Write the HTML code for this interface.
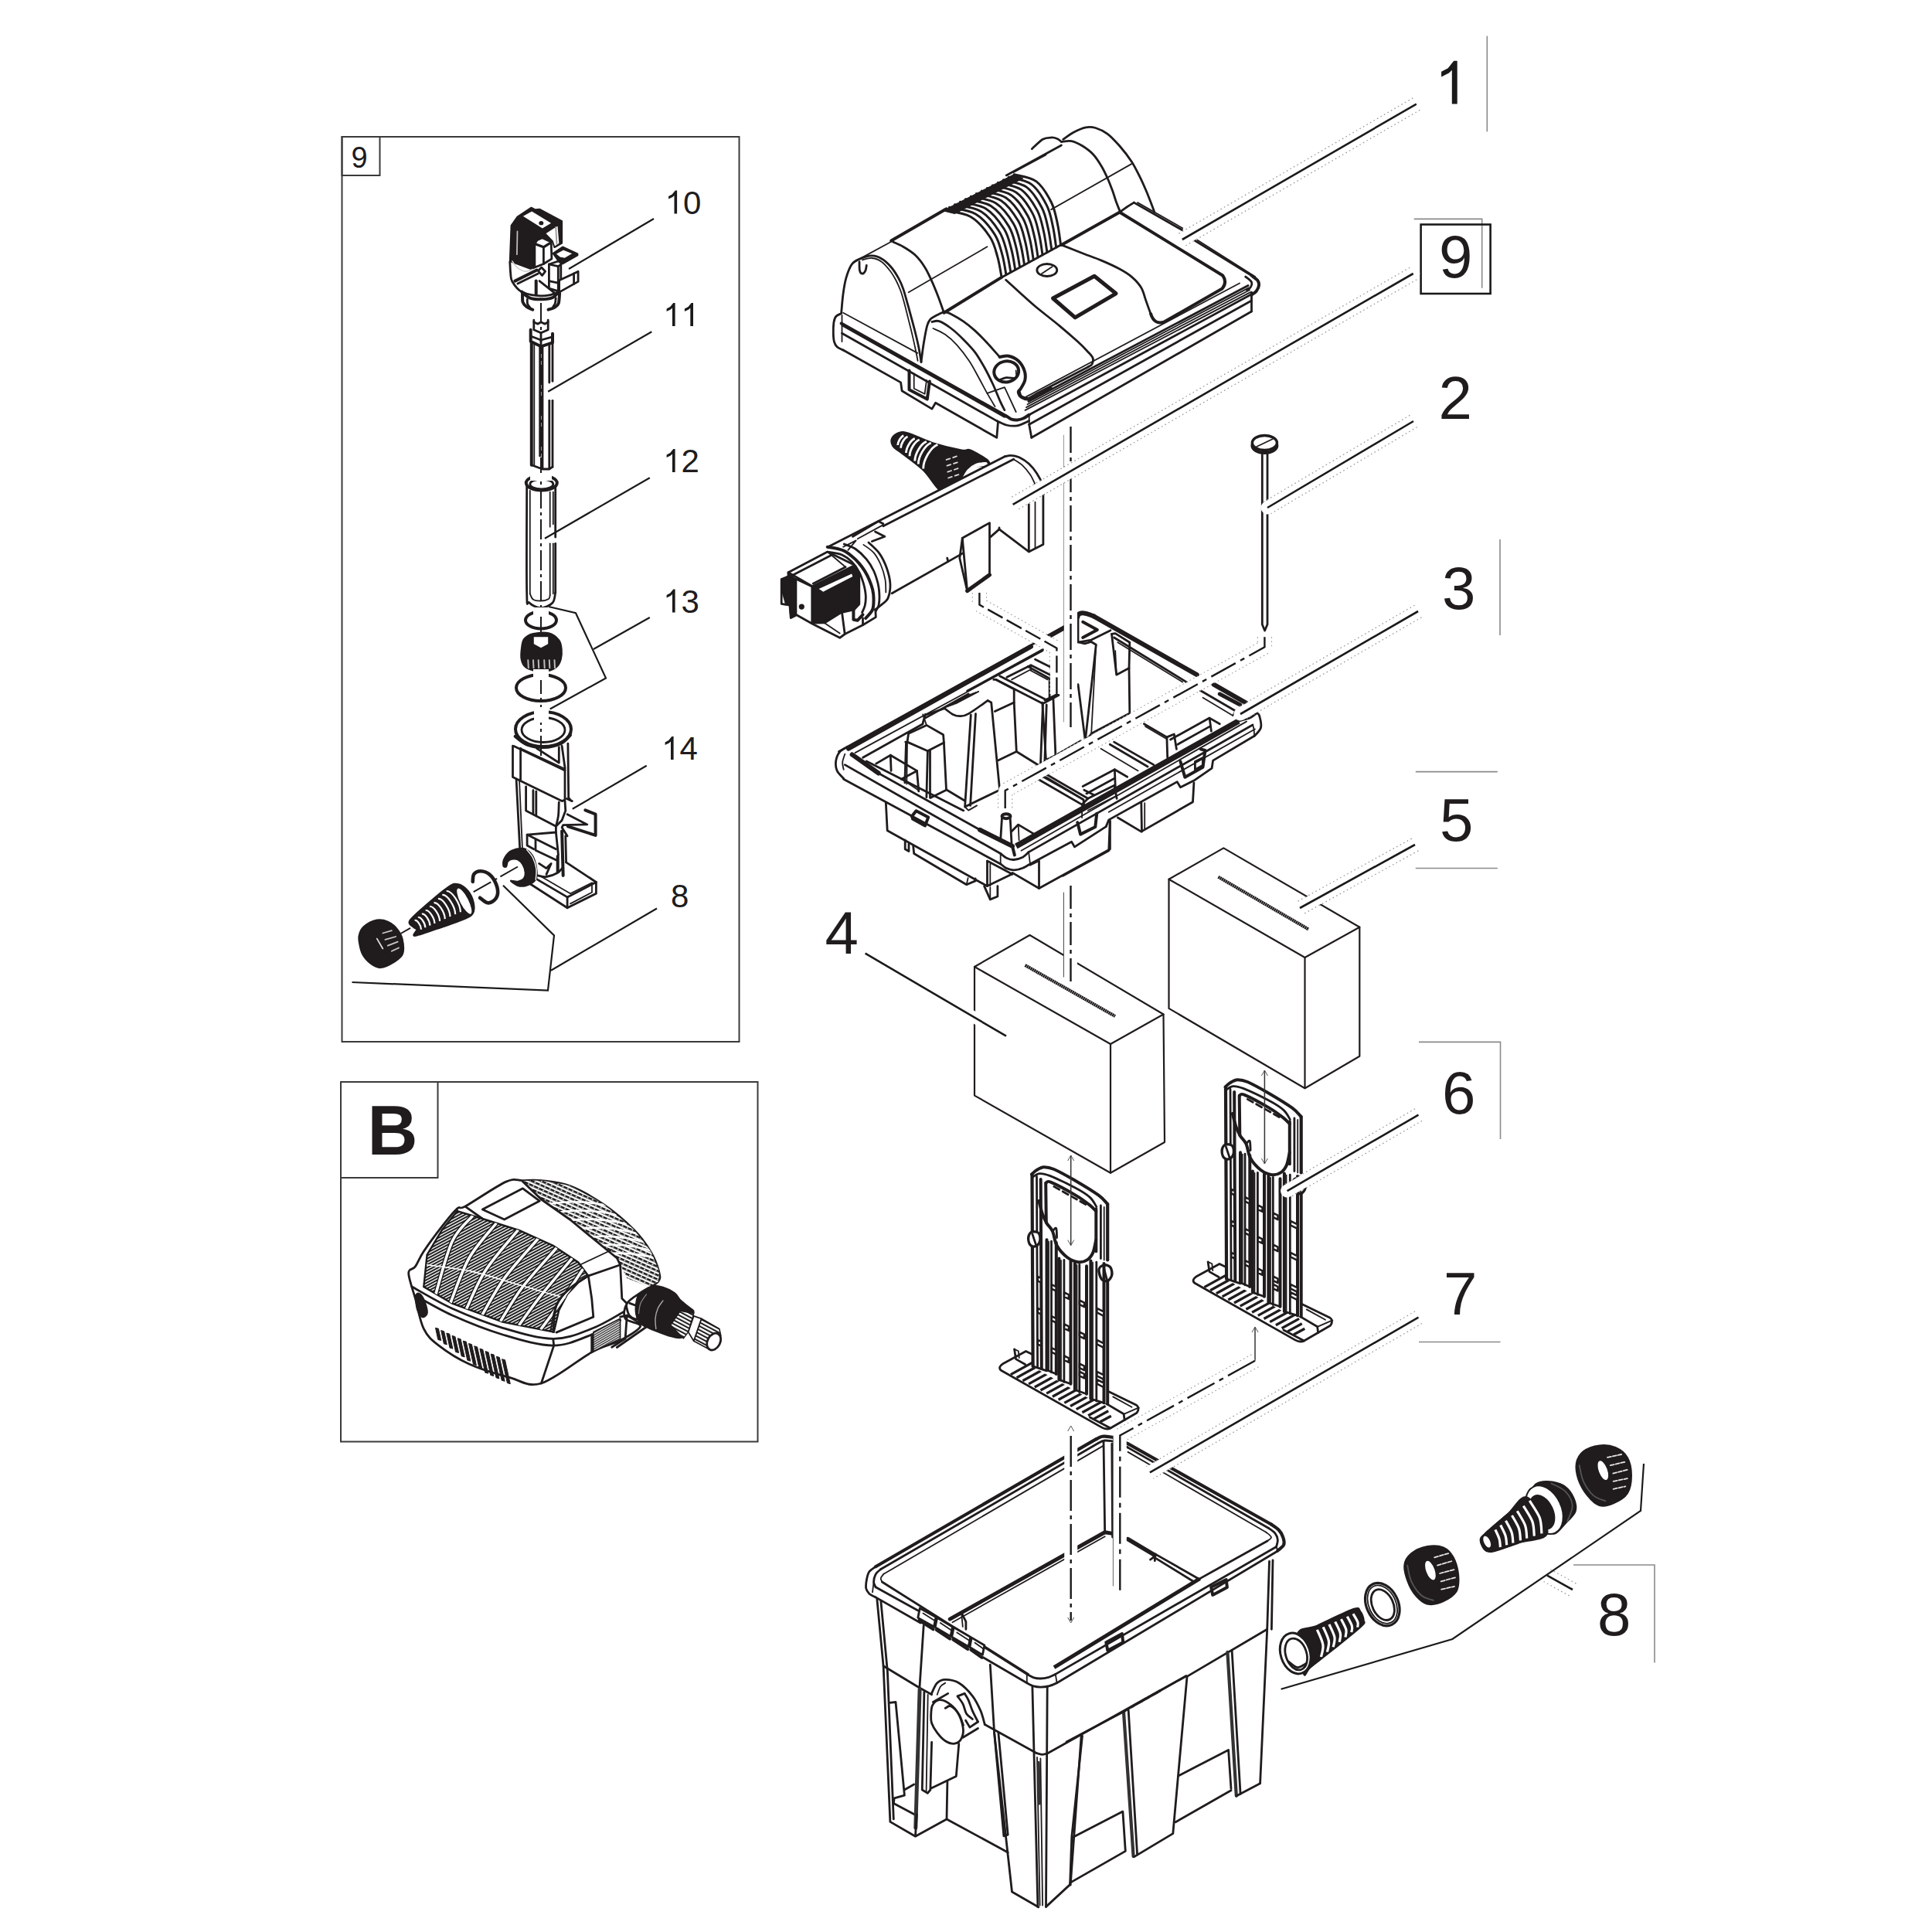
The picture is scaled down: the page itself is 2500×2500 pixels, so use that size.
<!DOCTYPE html>
<html><head><meta charset="utf-8"><title>Exploded view</title>
<style>
html,body{margin:0;padding:0;background:#fff;}
body{width:2500px;height:2500px;overflow:hidden;font-family:"Liberation Sans",sans-serif;}
svg{display:block;position:absolute;left:0;top:0;}
text{font-family:"Liberation Sans",sans-serif;fill:#201c1d;}
.l{fill:none;stroke:#201c1d;stroke-width:2.8;stroke-linecap:round;stroke-linejoin:round;}
.t{fill:none;stroke:#201c1d;stroke-width:1.8;stroke-linecap:round;stroke-linejoin:round;}
.k{fill:none;stroke:#201c1d;stroke-width:4;stroke-linecap:round;stroke-linejoin:round;}
.w{fill:#fff;stroke:#201c1d;stroke-width:2.8;stroke-linecap:round;stroke-linejoin:round;}
.wt{fill:#fff;stroke:#201c1d;stroke-width:1.8;stroke-linecap:round;stroke-linejoin:round;}
.b{fill:#201c1d;stroke:#201c1d;stroke-width:2;stroke-linejoin:round;}
.g{fill:none;stroke:#8a8a8a;stroke-width:1.6;}
</style></head><body>
<svg width="2500" height="2500" viewBox="0 0 2500 2500">
<rect x="0" y="0" width="2500" height="2500" fill="#fff"/>
<g id="base">
<rect x="442.5" y="177" width="514" height="1171" fill="none" stroke="#3a3a3a" stroke-width="2"/>
<rect x="442.5" y="177" width="49" height="50" fill="none" stroke="#3a3a3a" stroke-width="2"/>
<rect x="441" y="1400" width="539.5" height="465.5" fill="none" stroke="#3a3a3a" stroke-width="2"/>
<rect x="441" y="1400" width="125.5" height="124" fill="none" stroke="#3a3a3a" stroke-width="2"/>
<line class="g" x1="1924.3" y1="46.6" x2="1924.3" y2="170.4"/>
<polyline class="g" points="1829.7,283.4 1917.7,283.4 1917.7,372.7"/>
<line class="g" x1="1941" y1="698" x2="1941" y2="822"/>
<line class="g" x1="1831.8" y1="998.6" x2="1937.8" y2="998.6"/>
<line class="g" x1="1831.8" y1="1123.5" x2="1937.8" y2="1123.5"/>
<polyline class="g" points="1836,1348.4 1941.5,1348.4 1941.5,1474"/>
<line class="g" x1="1836" y1="1736.5" x2="1941.5" y2="1736.5"/>
<polyline class="g" points="2036,2025 2141,2025 2141,2151.4"/>
<rect x="1838.6" y="290.5" width="90" height="89.5" fill="none" stroke="#1a1a1a" stroke-width="2.6"/>
</g>
<g id="panel9">
<line x1="700" y1="392" x2="700" y2="1012" style="fill:none;stroke:#1a1a1a;stroke-width:2;stroke-dasharray:26 5 4 5"/>
<line x1="670" y1="1121.5" x2="518.5" y2="1208" style="fill:none;stroke:#1a1a1a;stroke-width:2;stroke-dasharray:26 5 4 5"/>
<polygon class="b" points="661.6,291.8 669.5,280.6 687.5,268.7 692.8,271.3 698.1,270.7 727.1,286.1 727.1,314.7 717.5,320 715.3,312.1 702.1,306.3 691.9,311.6 691.9,346 678.7,353 666.4,347.7 659.8,338.9"/>
<polygon class="wt" points="675.2,279.8 688.2,272.4 714.8,288.7 701.9,296.5"/>
<ellipse class="b" cx="700.3" cy="288.7" rx="2" ry="1.6"/>
<polygon class="wt" points="705.1,301.9 716.6,294.5 722.3,291.2 724.3,315.3 717.5,319.7 714.8,311.8"/>
<polyline class="t" points="719.2,294 720.5,315.6" style="stroke:#999"/>
<polyline class="t" points="669.5,299.3 668.9,329.2" style="stroke:#bbb"/>
<polygon class="w" points="691.9,315.6 703.4,320 703.4,341.5 691.9,346"/>
<polygon class="w" points="703.4,320 713.2,313.8 713.9,334.9 703.4,341.5"/>
<polygon class="w" points="695,310.7 701.6,307.7 713.5,313.2 703.6,319.5 692.1,315.3"/>
<polygon class="b" points="715.7,327.9 728,319.5 747.4,328.3 747.4,330.5 728,341.5 722.7,338"/>
<polygon class="wt" points="718.3,328.5 728.9,322.6 742.1,328 730.7,334.7 724.5,333.5"/>
<path class="w" d="M659.8 338.9C660 341.4 660.2 349.6 660.7 353.9C661.2 358.1 660.5 360.5 662.9 364.4C665.3 368.4 669 374.6 675.2 377.6C681.4 380.7 692.1 382.9 699.9 382.9C707.6 382.9 717.9 381 721.9 377.6C725.8 374.3 723.3 365.2 723.6 362.7"/>
<polyline class="k" points="666.4,363.6 694.6,349.5"/>
<polyline class="l" points="669.9,367.1 696.3,353.9"/>
<polyline class="k" points="693.7,363.6 693.7,380.3"/>
<polyline class="l" points="698.1,363.6 719.2,380.3"/>
<path class="l" d="M662.9 338C663.9 339.3 666.3 343.8 669 346C671.8 348.2 676.2 350.8 679.6 351.2C683 351.7 687.7 349 689.3 348.6" style="stroke:#ccc;stroke-width:1.6"/>
<polygon class="w" points="710.4,342 722.3,338 725.8,339.8 725.8,363.6 722.7,376.8 710.4,373.2"/>
<polyline class="l" points="710.4,363.6 722.3,366.2 725.8,363.6"/>
<polyline class="l" points="722.3,344.6 722.3,376.8"/>
<polyline class="l" points="710.4,342 722.3,344.6 725.8,342.4"/>
<polygon class="w" points="723.6,362.7 742.6,353.9 748.1,351.2 748.1,364.4 723.6,378.1"/>
<polyline class="l" points="742.6,353.9 742.6,367.5"/>
<polygon class="w" points="696.3,350.4 700.7,346 705.6,351.2 701.6,356.5"/>
<path class="k" d="M675.2 377.6C677 379 681.4 383.9 685.8 385.6C690.2 387.2 696.6 387.5 701.6 387.3C706.6 387.2 712.2 386.3 715.7 384.7C719.2 383.1 721.6 378.8 722.7 377.6"/>
<path class="k" d="M676.1 379.4C676.2 381.3 675.7 387.9 676.5 390.8C677.4 393.8 679.2 395.4 681.4 397C683.5 398.7 688 400.1 689.3 400.7"/>
<path class="k" d="M724.1 379.4C723.8 381.6 723.8 389.5 722.7 392.6C721.6 395.7 719.7 396.5 717.5 397.9C715.3 399.2 710.9 400.2 709.5 400.7"/>
<path class="l" d="M682.3 387.3C682.3 388.4 682.1 391.7 682.7 393.5C683.3 395.2 685.3 397.2 685.8 397.9"/>
<path class="l" d="M719.2 385.6C719.1 386.7 718.9 390.7 718.3 392.6C717.8 394.5 716.1 396.3 715.7 397"/>
<polyline class="l" points="690.8,414.2 690.8,426.7 700,430.8 709.2,426.7 709.2,414.2"/>
<polyline class="l" points="700,430.8 700,441.7"/>
<polyline class="l" points="690.8,416.7 695.8,419.2 700,416.7 705,419.2 709.2,416.7"/>
<polyline class="k" points="686.7,426.7 686.7,441.7 700,448.3 715,443.3 715,431.7"/>
<polyline class="l" points="686.7,435 700,440 715,435.8"/>
<polyline class="l" points="700,440 700,448.3"/>
<line class="k" x1="687.8" y1="443.3" x2="687.8" y2="601.7"/>
<line class="t" x1="691.3" y1="445.8" x2="691.3" y2="602.5"/>
<line class="l" x1="698.7" y1="448.7" x2="698.7" y2="590"/>
<line class="l" x1="702" y1="448.7" x2="702" y2="606.7"/>
<line class="l" x1="710.8" y1="445" x2="710.8" y2="495"/>
<line class="l" x1="710.8" y1="518.3" x2="710.8" y2="606.7"/>
<line class="l" x1="715" y1="443.3" x2="715" y2="493.3"/>
<line class="l" x1="715" y1="518.3" x2="715" y2="604.2"/>
<polyline class="l" points="687.8,601.7 702,607 710.8,607 715,604.2"/>
<ellipse class="k" cx="700.8" cy="625" rx="20" ry="9.5"/>
<ellipse class="l" cx="700.8" cy="626.5" rx="15" ry="6.5"/>
<rect x="686" y="612" width="28" height="10" fill="#fff"/>
<path class="l" d="M681.7 630C681.7 652.8 681.1 741.7 681.7 766.7C682.2 791.7 681.9 776.7 685 780C688.1 783.3 695 786.7 700 786.7C705 786.7 711.9 783.3 715 780C718.1 776.7 718.1 768.9 718.7 766.7"/>
<polyline class="l" points="718.7,766.7 718.7,703.3"/>
<polyline class="l" points="718.7,695 718.7,630"/>
<polyline class="t" points="685.8,635 685.8,768.3"/>
<polyline class="t" points="711.7,636.7 711.7,681.7"/>
<polyline class="t" points="711.7,703.3 711.7,770"/>
<polyline class="t" points="715.8,636.7 715.8,678.3"/>
<polyline class="t" points="715.8,703.3 715.8,768.3"/>
<path class="t" d="M685.8 768.3C686.5 769.6 687.6 774.3 690 775.8C692.4 777.4 696.7 777.6 700 777.5C703.3 777.4 708.1 776.2 710 775C711.9 773.8 711.4 770.8 711.7 770"/>
<ellipse class="k" cx="700" cy="802.5" rx="20" ry="11"/>
<rect x="690" y="786" width="20" height="12" fill="#fff"/>
<path class="b" d="M675 838.3C675.6 833.9 675.8 829.7 678.3 826.7C680.8 823.6 684.7 821.2 690 820C695.3 818.8 704.4 817.8 710 819.2C715.6 820.6 720.6 824.9 723.3 828.3C726.1 831.8 726.2 835.8 726.7 840C727.1 844.2 726.9 849.4 725.8 853.3C724.7 857.2 722.9 860.8 720 863.3C717.1 865.8 712.8 867.5 708.3 868.3C703.9 869.2 698.1 869.2 693.3 868.3C688.6 867.5 683.1 865.8 680 863.3C676.9 860.8 675.5 857.5 674.7 853.3C673.8 849.2 674.4 842.8 675 838.3Z"/>
<polygon class="w" points="690.8,824.2 690.8,833.3 700,838.3 709.2,833.3 709.2,824.2" style="stroke:none"/>
<polyline class="t" points="683.3,854.2 683.8,864.2" style="stroke:#bbb;stroke-width:2"/>
<polyline class="t" points="690,854.2 690.5,864.2" style="stroke:#bbb;stroke-width:2"/>
<polyline class="t" points="696.7,854.2 697.2,864.2" style="stroke:#bbb;stroke-width:2"/>
<polyline class="t" points="704.2,854.2 704.7,864.2" style="stroke:#bbb;stroke-width:2"/>
<polyline class="t" points="710.8,854.2 711.3,864.2" style="stroke:#bbb;stroke-width:2"/>
<polyline class="t" points="717.5,854.2 718,864.2" style="stroke:#bbb;stroke-width:2"/>
<ellipse class="k" cx="700" cy="890" rx="32" ry="17"/>
<rect x="690" y="866" width="20" height="14" fill="#fff"/>
<ellipse class="k" cx="703" cy="943.5" rx="36" ry="22.5"/>
<ellipse class="l" cx="703" cy="944.5" rx="28" ry="16"/>
<rect x="691" y="915" width="19" height="20" fill="#fff"/>
<polyline class="w" points="663.5,965.2 663.5,1005.6 727.1,1036.6 731,1035.1 731,993.9"/>
<polyline class="l" points="665,965.5 731,997"/>
<polyline class="t" points="673.6,968.3 731,994.7"/>
<polyline class="l" points="673.6,968.3 673.6,1008.7"/>
<path class="k" d="M666.6 952.8C669.2 954.6 676 961.3 682.1 963.7C688.2 966 695.8 967.3 703.1 967.1C710.3 966.8 719.8 964.8 725.6 962.1C731.4 959.5 735.9 953.1 738 951.2"/>
<polyline class="l" points="694.5,968.3 723.3,987 723.3,966.8"/>
<polyline class="l" points="734.9,962.1 735.7,1032 738,1035.1"/>
<polyline class="l" points="727.1,965.2 731,993.2"/>
<polyline class="l" points="668.1,1008.7 672.8,1100.3"/>
<polyline class="t" points="672,1008.7 675.9,1097.2"/>
<polyline class="l" points="680.6,1018 680.6,1049.1 719.4,1069.3 727.1,1061.5 731.8,1049.1 731,1036.6"/>
<polyline class="l" points="689.9,1022.7 689.9,1053"/>
<polyline class="l" points="693.8,1024.2 693.8,1055.3"/>
<path class="l" d="M723.3 1038.2C723.1 1041 723.1 1050.1 722.5 1055.3C721.8 1060.5 719.9 1066.9 719.4 1069.3"/>
<polyline class="l" points="734.1,1053.7 759.8,1066.9 728.7,1067.7 727.1,1070.8 734.1,1081.7"/>
<polyline class="k" points="757.4,1048.3 770.6,1053.7 770.6,1080.9 734.9,1069.3"/>
<polyline class="l" points="733.4,1033.5 740.3,1036.6"/>
<polyline class="l" points="719.4,1069.3 719.4,1077 682.1,1080.1 682.1,1094.1 690.7,1098.8"/>
<polyline class="l" points="719.4,1077 722.5,1106.5"/>
<polyline class="k" points="727.1,1075.5 728.7,1132.9"/>
<polyline class="l" points="731.8,1081.7 732.6,1115.8"/>
<polyline class="l" points="693,1086.3 693,1100.3 719.4,1112.7"/>
<polyline class="l" points="682.1,1080.1 719.4,1098.8"/>
<polyline class="k" points="721.7,1108.1 721.7,1128.3"/>
<polyline class="l" points="732.6,1115.8 771.4,1141.5 771.4,1156.2 734.1,1174.8 683.7,1142.2"/>
<polyline class="l" points="734.1,1160.9 734.1,1174.8"/>
<polyline class="l" points="694.5,1137.6 734.1,1160.9 771.4,1141.5"/>
<polyline class="t" points="700.7,1134.5 738,1156.2 766,1142.2 766,1154.7 738,1169.4"/>
<path class="l" d="M696.1 1132.9C697.9 1133.2 702.8 1135 707 1134.5C711.1 1134 717.3 1131.9 720.9 1129.8C724.6 1127.7 727.4 1123.3 728.7 1122"/>
<polyline class="l" points="697.6,1117.4 707,1123.6 713.2,1117.4 707,1131.4"/>
<path class="b" d="M651.2 1120.1C650.9 1118.2 651.3 1113 653.2 1109.8C655 1106.5 658.1 1102.6 662.2 1100.7C666.3 1098.8 673.4 1097.3 677.7 1098.1C682.1 1099 685.5 1102.4 688.1 1105.9C690.7 1109.3 692.2 1114.1 693.3 1118.8C694.3 1123.6 695.2 1130.5 694.6 1134.3C693.9 1138.2 691.8 1140.1 689.4 1142.1C687 1144.1 683.6 1145.6 680.3 1146.3C677.1 1146.9 673.2 1147.1 670 1146C666.7 1144.9 660.9 1140.6 660.9 1139.8C660.9 1138.9 667.2 1141.3 670 1140.8C672.8 1140.3 676.1 1138.9 677.7 1136.9C679.4 1135 679.9 1132.2 679.7 1129.2C679.5 1126.2 678.1 1121.6 676.4 1118.8C674.8 1116 672.4 1113.5 670 1112.3C667.6 1111.2 664.4 1111.3 662.2 1111.7C660.1 1112.1 658.2 1113.3 657 1114.9C655.9 1116.6 656.1 1120.5 655.1 1121.4C654.1 1122.3 651.5 1122.1 651.2 1120.1Z"/>
<path class="t" d="M681.6 1099.4C682.9 1101.1 687.3 1105.7 689.4 1109.8C691.4 1113.9 693.3 1119.3 693.9 1124C694.6 1128.7 693.4 1135.9 693.3 1138.2" style="stroke:#fff;stroke-width:1.4"/>
<path class="k" d="M611.7 1140.8C612 1139.2 611.6 1133.4 613.3 1131.1C615 1128.8 618.7 1127.1 622.1 1127.2C625.5 1127.3 630.4 1128.8 633.7 1131.8C637.1 1134.7 640.5 1140.4 642.2 1144.7C643.8 1149 644.6 1154 643.8 1157.6C643.1 1161.3 640 1164.7 637.6 1166.4C635.3 1168.2 632.6 1168.8 629.9 1168C627.1 1167.2 622.5 1162.8 621.1 1161.8" style="stroke-width:4.6"/>
<path class="b" d="M530.2 1191.3C533.4 1186.2 545.1 1176.6 553.5 1169.3C561.9 1162 574.2 1151.5 580.7 1147.3C587.2 1143.1 588.2 1143.2 592.3 1144.1C596.4 1144.9 601.9 1148.5 605.3 1152.5C608.7 1156.5 611.7 1163 612.8 1168C613.9 1173 614.1 1178.6 611.7 1182.2C609.4 1185.9 606.4 1186.8 598.8 1190C591.3 1193.2 576.8 1198.1 566.5 1201.6C556.1 1205.1 541.2 1210.7 536.7 1211C532.2 1211.2 539.6 1204.8 539.3 1202.9C539 1201.1 536.3 1201.6 534.8 1199.7C533.2 1197.8 527.1 1196.4 530.2 1191.3Z"/>
<ellipse class="t" cx="600.8" cy="1166.1" rx="6" ry="19" transform="rotate(-27 600.8 1166.1)" style="fill:#fff;stroke:#1a1a1a;stroke-width:1.2"/>
<path d="M536.7 1191.2 A3.3 7.9 -27 0 1 545 1202.7" fill="none" stroke="#fff" stroke-width="2.2"/>
<path d="M541 1187.2 A3.8 9 -27 0 1 550.3 1200.3" fill="none" stroke="#fff" stroke-width="2.2"/>
<path d="M545.9 1182.7 A4.3 10.3 -27 0 1 556.4 1197.6" fill="none" stroke="#fff" stroke-width="2.2"/>
<path d="M550.7 1178.1 A4.9 11.6 -27 0 1 562.4 1195" fill="none" stroke="#fff" stroke-width="2.2"/>
<path d="M556.1 1173.1 A5.5 13 -27 0 1 569.1 1192" fill="none" stroke="#fff" stroke-width="2.2"/>
<path d="M561.5 1168.1 A6.1 14.5 -27 0 1 575.8 1189.1" fill="none" stroke="#fff" stroke-width="2.2"/>
<path d="M566.9 1163 A6.7 15.9 -27 0 1 582.5 1186.1" fill="none" stroke="#fff" stroke-width="2.2"/>
<path d="M572.3 1158 A7.3 17.3 -27 0 1 589.2 1183.1" fill="none" stroke="#fff" stroke-width="2.2"/>
<path d="M577.7 1153 A7.9 18.8 -27 0 1 595.9 1180.2" fill="none" stroke="#fff" stroke-width="2.2"/>
<path class="b" d="M464.9 1209.4C465.9 1205.9 466.9 1202.2 470.7 1199C474.5 1195.9 482.3 1191.7 487.5 1190.6C492.7 1189.6 497.4 1190.7 501.8 1192.6C506.1 1194.4 510.3 1198 513.4 1201.6C516.5 1205.3 519.2 1209.2 520.5 1214.6C521.8 1220 522.8 1229 521.2 1234C519.6 1238.9 515.6 1241.3 510.8 1244.3C506.1 1247.4 497.9 1251.7 492.7 1252.1C487.5 1252.5 483.6 1249.7 479.8 1246.9C475.9 1244.1 471.9 1239.8 469.4 1235.3C466.9 1230.8 465.6 1224.1 464.9 1219.8C464.1 1215.4 463.9 1212.9 464.9 1209.4Z"/>
<polyline class="t" points="495.3,1207.5 506.9,1204.2" style="stroke:#c8c8c8;stroke-width:1.8"/>
<polyline class="t" points="498.5,1215.9 512.1,1212" style="stroke:#c8c8c8;stroke-width:1.8"/>
<polyline class="t" points="501.8,1223.6 514.7,1218.7" style="stroke:#c8c8c8;stroke-width:1.8"/>
<polyline class="t" points="506.9,1230.8 516,1226.5" style="stroke:#c8c8c8;stroke-width:1.8"/>
<polyline class="t" points="487.8,1214.6 495.3,1227.5" style="stroke:#ddd;stroke-width:1.8"/>
</g>
<g id="panelB">
<defs>
<pattern id="hg" width="3.4" height="3.4" patternUnits="userSpaceOnUse" patternTransform="rotate(-28)"><rect width="3.4" height="3.4" fill="#fff"/><rect width="3.4" height="2.0" fill="#1a1a1a"/></pattern>
<pattern id="hd" width="7" height="5" patternUnits="userSpaceOnUse" patternTransform="rotate(24)"><rect width="7" height="5" fill="#fff"/><rect width="7" height="2.6" fill="#1a1a1a"/><rect x="1" y="0.6" width="2" height="1.3" fill="#fff"/></pattern>
<pattern id="hs" width="2.6" height="2.6" patternUnits="userSpaceOnUse" patternTransform="rotate(-30)"><rect width="2.6" height="2.6" fill="#fff"/><rect width="2.6" height="1.4" fill="#333"/></pattern>
<pattern id="hn" width="3" height="3" patternUnits="userSpaceOnUse" patternTransform="rotate(-62)"><rect width="3" height="3" fill="#1a1a1a"/><rect width="3" height="0.8" fill="#bbb"/></pattern>
<pattern id="ht" width="4.4" height="4.4" patternUnits="userSpaceOnUse" patternTransform="rotate(-62)"><rect width="4.4" height="4.4" fill="#fff"/><rect width="2" height="4.4" fill="#1a1a1a"/></pattern>
<clipPath id="cg"><polygon points="591.7,1567.2 624.3,1577 672.2,1592.2 715.7,1611.7 748.3,1633.5 761.3,1650.9 748.3,1659.6 734.1,1674.8 723.3,1695.4 716.7,1723.7 650.4,1710.7 585.2,1686.7 548.3,1665 552.6,1623.7 572.2,1591.1"/></clipPath>
</defs>
<path class="w" d="M812.4 1698C811.1 1693.4 809 1683.5 809.9 1677.3C810.7 1671.1 814 1664.7 817.3 1660.7C820.6 1656.7 825.5 1653.9 829.8 1653.3C834 1652.6 841.9 1654.2 843 1656.6C844.1 1658.9 839 1663.5 836.4 1667.3C833.8 1671.2 829.5 1675.3 827.3 1679.8C825.1 1684.2 823.5 1689.4 823.1 1693.8C822.7 1698.2 825.7 1704.5 824.8 1706.3C823.8 1708 819.4 1706 817.3 1704.6C815.3 1703.2 813.6 1702.5 812.4 1698Z"/>
<polyline class="l" points="817.3,1673.1 827.3,1677.3"/>
<polyline class="l" points="814.8,1686.4 824,1689.7"/>
<polyline class="l" points="824.8,1662.4 834.7,1667.3"/>
<polyline class="l" points="790,1722.8 812.4,1702.9 836.4,1717 798.3,1743.5"/>
<path class="b" d="M823.1 1686.4C823.8 1680.6 825.6 1675.2 828.9 1671.5C832.2 1667.7 838.2 1665 843 1664C847.8 1663.1 852.9 1664.2 857.9 1665.7C862.9 1667.2 869 1670.2 872.8 1673.1C876.7 1676 877.6 1679.8 881.1 1683.1C884.5 1686.4 890.8 1690.5 893.5 1693C896.3 1695.5 897.9 1694.7 897.7 1698C897.4 1701.3 893.9 1708 891.9 1712.9C889.8 1717.7 887 1723.9 885.2 1727C883.4 1730 883.9 1730.7 881.1 1731.1C878.3 1731.5 874.2 1731 868.7 1729.4C863.2 1727.9 853.4 1724.1 848 1722C842.6 1719.9 840.2 1719.6 836.4 1717C832.5 1714.4 827 1711.4 824.8 1706.3C822.6 1701.1 822.4 1692.2 823.1 1686.4Z"/>
<path class="t" d="M857.9 1683.1C856.8 1684.7 852.9 1689.1 851.3 1693C849.6 1696.9 848.4 1701.8 848 1706.3C847.6 1710.7 848.7 1717.3 848.8 1719.5" style="stroke:#aaa;stroke-width:1.4"/>
<path class="t" d="M836.4 1674.8C835.1 1676.7 830.6 1682.2 828.9 1686.4C827.3 1690.5 826.9 1697.4 826.4 1699.6" style="stroke:#888;stroke-width:1.2"/>
<polygon class="l" points="867.8,1714.5 880.3,1696.3 897.7,1699.6 890.6,1723.6 884.4,1731.9" style="fill:url(#ht);stroke-width:1.4"/>
<polygon class="l" points="897.7,1735.2 907.6,1706.3 930.8,1719.5 932.9,1728.6 919.2,1746.8" style="fill:url(#ht);stroke-width:1.6"/>
<polygon class="w" points="890.6,1723.6 897.7,1702.9 907.6,1706.3 897.7,1735.2" style="stroke-width:1.8"/>
<ellipse class="w" cx="923.7" cy="1736.1" rx="8.2" ry="11.5" transform="rotate(28 923.7 1736.1)"/>
<path class="w" d="M528.7 1647.6C528.7 1640.7 534.1 1643.6 537.4 1638.9C540.7 1634.2 542.5 1628 548.3 1619.3C554.1 1610.7 564.9 1596 572.2 1586.7C579.4 1577.5 586.7 1568.3 591.7 1563.9C596.8 1559.6 592.1 1566.4 602.6 1560.7C613.1 1554.9 642.5 1534.6 654.8 1529.1C667.1 1523.6 668.9 1527.9 676.5 1527.6C684.1 1527.4 690.3 1526.4 700.4 1527.6C710.6 1528.8 724 1529.4 737.4 1534.6C750.8 1539.7 767.1 1549.1 780.9 1558.5C794.6 1567.9 809.9 1580.9 820 1591.1C830.1 1601.2 836.3 1610.3 841.7 1619.3C847.2 1628.4 851 1638.9 852.6 1645.4C854.2 1652 855.1 1654.1 851.5 1658.5C847.9 1662.8 837.6 1666.8 830.9 1671.5C824.2 1676.2 814.9 1680.9 811.3 1686.7C807.7 1692.5 806.2 1701.4 809.1 1706.3C812 1711.2 829.8 1711.4 828.7 1716.1C827.6 1720.8 813.1 1728.9 802.6 1734.6C792.1 1740.2 782.7 1740.5 765.7 1749.8C748.6 1759 718.2 1784.6 700.4 1790C682.7 1795.4 674.7 1786.6 659.1 1782.4C643.6 1778.2 622.2 1771.9 607 1765C591.7 1758.1 577.6 1748.7 567.8 1741.1C558 1733.5 553.3 1729.5 548.3 1719.3C543.2 1709.2 540.7 1692.2 537.4 1680.2C534.1 1668.3 528.7 1654.5 528.7 1647.6Z"/>
<clipPath id="cz"><polygon points="676.5,1528 700.4,1527.4 737.4,1534.1 780.9,1558 820,1590.7 842.2,1619.3 853,1645.4 851.7,1658.5 839.6,1665 811.3,1654.1 802.6,1636.7 798.3,1628 737.4,1578 700.4,1552"/></clipPath>
<polygon points="676.5,1528 700.4,1527.4 737.4,1534.1 780.9,1558 820,1590.7 842.2,1619.3 853,1645.4 851.7,1658.5 839.6,1665 811.3,1654.1 802.6,1636.7 798.3,1628 737.4,1578 700.4,1552" fill="url(#hd)" stroke="none"/>
<g clip-path="url(#cz)">
<path d="M708.3 1558 Q747 1551.6 785.8 1559.9" fill="none" stroke="#fff" stroke-width="2.6"/>
<path d="M722 1568.7 Q760.1 1562.9 798.3 1571.9" fill="none" stroke="#fff" stroke-width="2.6"/>
<path d="M735.7 1579.3 Q773.2 1574.3 810.8 1584" fill="none" stroke="#fff" stroke-width="2.6"/>
<path d="M749.3 1590 Q786.3 1585.6 823.3 1596" fill="none" stroke="#fff" stroke-width="2.6"/>
<path d="M763 1600.7 Q799.4 1596.9 835.7 1608" fill="none" stroke="#fff" stroke-width="2.6"/>
<path d="M776.7 1611.3 Q812.5 1608.3 848.2 1620" fill="none" stroke="#fff" stroke-width="2.6"/>
<path d="M790.4 1622 Q825.6 1619.6 860.7 1632" fill="none" stroke="#fff" stroke-width="2.6"/>
</g>
<polyline class="l" points="602.6,1561.7 624.3,1577"/>
<polyline class="l" points="676.5,1529.1 700.4,1552 737.4,1578 798.3,1628 802.6,1636.7 804.8,1680.2 811.3,1686.7"/>
<polyline class="l" points="761.3,1650.9 802.6,1636.7"/>
<polyline class="t" points="750.4,1636.7 791.7,1617.2"/>
<polygon class="l" points="624.3,1565 676.5,1537.8 698.3,1554.1 652.6,1578"/>
<polyline class="t" points="591.7,1563.9 591.7,1568.3"/>
<polygon points="591.7,1567.2 624.3,1577 672.2,1592.2 715.7,1611.7 748.3,1633.5 761.3,1650.9 748.3,1659.6 734.1,1674.8 723.3,1695.4 716.7,1723.7 650.4,1710.7 585.2,1686.7 548.3,1665 552.6,1623.7 572.2,1591.1" fill="url(#hg)" stroke="#1a1a1a" stroke-width="2.4"/>
<g clip-path="url(#cg)">
<path class="l" d="M611.3 1573.7C607 1579.1 593.2 1589.3 585.2 1606.3C577.2 1623.3 567.1 1664.3 563.5 1675.9" style="stroke:#1a1a1a;stroke-width:6.4"/>
<path class="l" d="M611.3 1573.7C607 1579.1 593.2 1589.3 585.2 1606.3C577.2 1623.3 567.1 1664.3 563.5 1675.9" style="stroke:#fff;stroke-width:3.6"/>
<path class="l" d="M641.7 1583.5C635.9 1590.9 616.7 1611 607 1628C597.2 1645.1 587 1676.1 583 1685.7" style="stroke:#1a1a1a;stroke-width:6.4"/>
<path class="l" d="M641.7 1583.5C635.9 1590.9 616.7 1611 607 1628C597.2 1645.1 587 1676.1 583 1685.7" style="stroke:#fff;stroke-width:3.6"/>
<path class="l" d="M670 1592.2C663.1 1600.7 639.7 1626.4 628.7 1643.3C617.6 1660.1 607.9 1684.9 603.7 1693.3" style="stroke:#1a1a1a;stroke-width:6.4"/>
<path class="l" d="M670 1592.2C663.1 1600.7 639.7 1626.4 628.7 1643.3C617.6 1660.1 607.9 1684.9 603.7 1693.3" style="stroke:#fff;stroke-width:3.6"/>
<path class="l" d="M696.1 1603C688.8 1611.6 664.6 1637.8 652.6 1654.1C640.7 1670.4 629.1 1693.1 624.3 1700.9" style="stroke:#1a1a1a;stroke-width:6.4"/>
<path class="l" d="M696.1 1603C688.8 1611.6 664.6 1637.8 652.6 1654.1C640.7 1670.4 629.1 1693.1 624.3 1700.9" style="stroke:#fff;stroke-width:3.6"/>
<path class="l" d="M720 1615C712.8 1623.3 688.5 1649.4 676.5 1665C664.6 1680.6 653 1701.2 648.3 1708.5" style="stroke:#1a1a1a;stroke-width:6.4"/>
<path class="l" d="M720 1615C712.8 1623.3 688.5 1649.4 676.5 1665C664.6 1680.6 653 1701.2 648.3 1708.5" style="stroke:#fff;stroke-width:3.6"/>
<path class="l" d="M739.6 1629.1C733 1636.9 711.7 1661.7 700.4 1675.9C689.2 1690 676.9 1707.6 672.2 1713.9" style="stroke:#1a1a1a;stroke-width:6.4"/>
<path class="l" d="M739.6 1629.1C733 1636.9 711.7 1661.7 700.4 1675.9C689.2 1690 676.9 1707.6 672.2 1713.9" style="stroke:#fff;stroke-width:3.6"/>
<path class="l" d="M753.7 1643.3C748.8 1650.5 733.2 1674.1 724.3 1686.7C715.5 1699.4 704.4 1713.9 700.4 1719.3" style="stroke:#1a1a1a;stroke-width:6.4"/>
<path class="l" d="M753.7 1643.3C748.8 1650.5 733.2 1674.1 724.3 1686.7C715.5 1699.4 704.4 1713.9 700.4 1719.3" style="stroke:#fff;stroke-width:3.6"/>
<path class="l" d="M552.6 1636.7C562.4 1638.2 591.4 1641.1 611.3 1645.4C631.2 1649.8 651.2 1657 672.2 1662.8C693.2 1668.6 721.8 1678 737.4 1680.2C753 1682.4 760.9 1676.6 765.7 1675.9" style="stroke:#fff;stroke-width:1.6"/>
</g>
<polyline class="l" points="761.3,1650.9 765.7,1680.2 767.8,1704.1 720,1724.1"/>
<path class="l" d="M761.3 1650.9C757.3 1653.6 744.3 1660.8 737.4 1667.2C730.5 1673.5 723.6 1679.5 720 1688.9C716.4 1698.3 716.4 1717.9 715.7 1723.7"/>
<path class="t" d="M754.8 1654.1C750.8 1657.4 737 1666.8 730.9 1673.7C724.7 1680.6 720.9 1687.3 717.8 1695.4C714.7 1703.6 713.3 1718.1 712.4 1722.6"/>
<path class="l" d="M533 1665C541.7 1669.7 565.7 1684.4 585.2 1693.3C604.8 1702.1 628.7 1711.7 650.4 1718.3C672.2 1724.8 696.4 1732.2 715.7 1732.4C734.9 1732.6 750.4 1725.1 765.7 1719.3C780.9 1713.6 800.1 1701.2 807 1697.6"/>
<path class="l" d="M536.3 1675.9C544.5 1680.2 566.2 1693.4 585.2 1702C604.2 1710.5 628.7 1720.4 650.4 1727C672.2 1733.5 696.4 1741.1 715.7 1741.1C734.9 1741.1 751.2 1732.4 765.7 1727C780.1 1721.5 796.4 1711.6 802.6 1708.5"/>
<polyline class="l" points="715.7,1732.4 716.7,1741.1 700.4,1790"/>
<polyline class="l" points="765.7,1727 765.7,1749.8"/>
<path class="b" d="M538.5 1675.9C539.2 1672.8 541.9 1673 543.9 1674.8C545.9 1676.6 549 1682.6 550.4 1686.7C551.9 1690.9 553.3 1696.9 552.6 1699.8C551.9 1702.7 548.3 1705.2 546.1 1704.1C543.9 1703 540.8 1698 539.6 1693.3C538.3 1688.6 537.8 1678.9 538.5 1675.9Z"/>
<polygon class="b" points="563.5,1718.3 567.4,1719.3 570.7,1734.6 566.8,1733.5" style="stroke-width:1"/>
<polygon class="b" points="570.7,1721.6 574.6,1722.7 578.3,1739.9 574.4,1738.8" style="stroke-width:1"/>
<polygon class="b" points="577.8,1725 581.7,1726.1 585.9,1745.2 582,1744.1" style="stroke-width:1"/>
<polygon class="b" points="585,1728.4 588.9,1729.5 593.6,1750.5 589.6,1749.5" style="stroke-width:1"/>
<polygon class="b" points="592.2,1731.7 596.1,1732.8 601.2,1755.9 597.2,1754.8" style="stroke-width:1"/>
<polygon class="b" points="599.3,1735.1 603.3,1736.2 608.8,1761.2 604.8,1760.1" style="stroke-width:1"/>
<polygon class="b" points="606.5,1738.5 610.4,1739.6 616.4,1766.5 612.5,1765.4" style="stroke-width:1"/>
<polygon class="b" points="613.7,1741.8 617.6,1742.9 624,1771.8 620.1,1770.8" style="stroke-width:1"/>
<polygon class="b" points="620.9,1745.2 624.8,1746.3 631.6,1777.2 627.7,1776.1" style="stroke-width:1"/>
<polygon class="b" points="628,1748.6 632,1749.7 638.7,1780.5 634.8,1779.5" style="stroke-width:1"/>
<polygon class="b" points="635.2,1752 639.1,1753 645.9,1783.9 642,1782.8" style="stroke-width:1"/>
<polygon class="b" points="642.4,1755.3 646.3,1756.4 653.1,1787.3 649.2,1786.2" style="stroke-width:1"/>
<polygon class="b" points="649.6,1758.7 653.5,1759.8 660.3,1790.7 656.4,1789.6" style="stroke-width:1"/>
<polygon class="l" points="767.8,1723.7 802.6,1706.3 802.6,1732.4 767.8,1748.7" style="fill:url(#hs);stroke-width:1.6"/>
<polyline class="l" points="802.6,1704.1 811.3,1702 809.1,1732.4 791.7,1743.3"/>
</g>
<g id="lid">
<path class="l" d="M1375.7 180.3C1378 178.7 1384.8 173.6 1389.7 171C1394.6 168.4 1400.6 165.7 1405.2 164.8C1409.9 163.8 1413 164.1 1417.6 165.5C1422.3 167 1428 169.4 1433.2 173.3C1438.3 177.2 1443.5 182.9 1448.7 188.8C1453.9 194.8 1459.8 202.3 1464.2 209C1468.6 215.7 1472 223 1475.1 229.2C1478.2 235.4 1480.5 240.8 1482.9 246.3C1485.2 251.7 1487.3 257.1 1489.1 261.8C1490.9 266.5 1493 272.2 1493.7 274.2"/>
<path class="l" d="M1373.4 183.4C1375.6 183.3 1382.1 181.7 1386.6 182.6C1391.1 183.5 1395.9 186 1400.6 188.8C1405.2 191.7 1410.4 195.3 1414.5 199.7C1418.7 204.1 1422.3 210 1425.4 215.2C1428.5 220.4 1430.8 225.6 1433.2 230.7C1435.5 235.9 1437.6 241.4 1439.4 246.3C1441.2 251.2 1442.4 255.6 1444 260.2C1445.7 264.9 1448.6 271.9 1449.5 274.2"/>
<path class="l" d="M1335.3 192.7C1337.7 190.6 1345.2 182.7 1349.3 180.3C1353.5 177.8 1357.1 178.1 1360.2 178C1363.3 177.8 1365.8 178.6 1368 179.5C1370.2 180.4 1372.5 182.7 1373.4 183.4"/>
<polyline class="t" points="1360.2,271.1 1464.2,212.1"/>
<polyline class="t" points="1111.2,335.6 1155.5,311.5"/>
<polyline class="k" points="1153.2,311.5 1224.6,270.3"/>
<polyline class="l" points="1302.2,226.9 1373.4,188"/>
<polyline class="t" points="1311.6,223 1353.5,200.5"/>
<path class="l" d="M1088.7 404.7C1089.1 400.5 1090 387.3 1091.1 379.8C1092.1 372.3 1093.1 365.8 1094.9 359.6C1096.7 353.4 1099.2 346.6 1101.9 342.5C1104.6 338.5 1106.8 337.5 1111.2 335.6C1115.6 333.6 1123.4 331 1128.3 330.9C1133.2 330.8 1136.6 332.3 1140.7 334.8C1144.9 337.2 1149.5 341.5 1153.2 345.7C1156.8 349.8 1159.9 355 1162.5 359.6C1165.1 364.3 1166.8 368.2 1168.7 373.6C1170.6 379 1172.6 386.8 1174.1 392.2C1175.7 397.7 1176.3 400 1178 406.2C1179.7 412.4 1182.4 422.2 1184.2 429.5C1186 436.8 1187.6 443.5 1188.9 450C1190.2 456.5 1191.5 465.4 1192 468.5"/>
<path class="t" d="M1115.9 336.3C1118 335.9 1124.2 333.6 1128.3 334C1132.5 334.4 1136.9 335.9 1140.7 338.7C1144.6 341.4 1148.5 346.3 1151.6 350.3C1154.7 354.3 1157 358.3 1159.4 362.7C1161.7 367.1 1163.7 371.5 1165.6 376.7C1167.5 381.9 1169 388.1 1170.6 393.8C1172.1 399.5 1173.3 404.4 1174.9 410.9C1176.5 417.3 1178.8 426.1 1180.3 432.6C1181.9 439.1 1183 444.3 1184.2 450C1185.4 455.7 1187.1 464 1187.6 466.8"/>
<path class="l" d="M1112 338.7C1112.1 340.6 1111.8 347.7 1112.5 350.3C1113.1 352.9 1114.7 354.2 1115.9 354.2C1117.1 354.2 1118.9 352.1 1119.8 350.3C1120.7 348.5 1121.1 344.5 1121.3 343.3"/>
<path class="l" d="M1155.5 313C1157.7 314.1 1163.9 316.4 1168.7 319.3C1173.5 322.1 1179.6 325.7 1184.2 330.1C1188.9 334.5 1193 340 1196.6 345.7C1200.3 351.3 1203.1 358.1 1206 364.3C1208.8 370.5 1211.1 376.2 1213.7 382.9C1216.3 389.6 1220.2 401 1221.5 404.7"/>
<polyline class="t" points="1175.7,378.3 1277.4,319.3"/>
<polyline class="k" points="1221.5,404.7 1296,358.9"/>
<path class="l" d="M1221.5 271.9C1227.2 273.3 1246.1 274.8 1256 280.5C1265.9 286.3 1275.1 297.8 1280.9 306.5C1286.7 315.1 1288.3 323.8 1290.8 332.4C1293.3 341.1 1295.2 354.1 1296 358.4" style="stroke-width:3"/>
<path class="l" d="M1228.5 268.3C1234.2 269.8 1252.8 271.2 1262.5 277C1272.3 282.8 1281.3 294.4 1287 303.1C1292.7 311.8 1294.3 320.5 1296.8 329.1C1299.3 337.8 1301.1 350.9 1301.9 355.2" style="stroke-width:3"/>
<path class="l" d="M1235.5 264.8C1241.1 266.3 1259.4 267.7 1269.1 273.5C1278.7 279.3 1287.5 291 1293.1 299.7C1298.7 308.4 1300.3 317.1 1302.7 325.8C1305.2 334.6 1307 347.6 1307.8 352" style="stroke-width:3"/>
<path class="l" d="M1242.5 261.3C1248 262.7 1266.1 264.2 1275.6 270C1285.1 275.8 1293.7 287.5 1299.3 296.3C1304.8 305 1306.3 313.8 1308.7 322.5C1311.1 331.3 1312.9 344.4 1313.7 348.8" style="stroke-width:3"/>
<path class="l" d="M1249.4 257.7C1254.9 259.2 1272.8 260.6 1282.2 266.5C1291.5 272.4 1300 284.1 1305.4 292.9C1310.8 301.7 1312.3 310.5 1314.7 319.3C1317 328 1318.8 341.2 1319.6 345.6" style="stroke-width:3"/>
<path class="l" d="M1256.4 254.2C1261.8 255.6 1279.5 257.1 1288.7 263C1297.9 268.9 1306.2 280.6 1311.5 289.5C1316.8 298.3 1318.3 307.1 1320.6 316C1323 324.8 1324.7 338 1325.5 342.4" style="stroke-width:3"/>
<path class="l" d="M1263.4 250.6C1268.7 252.1 1286.2 253.6 1295.3 259.5C1304.3 265.4 1312.4 277.2 1317.7 286.1C1322.9 294.9 1324.3 303.8 1326.6 312.7C1328.9 321.5 1330.6 334.8 1331.4 339.2" style="stroke-width:3"/>
<path class="l" d="M1270.4 247.1C1275.6 248.5 1292.9 250 1301.8 256C1310.7 261.9 1318.7 273.8 1323.8 282.7C1328.9 291.6 1330.3 300.5 1332.6 309.4C1334.8 318.3 1336.5 331.6 1337.2 336.1" style="stroke-width:3"/>
<path class="l" d="M1277.4 243.5C1282.6 245 1299.6 246.5 1308.3 252.4C1317.1 258.4 1324.9 270.3 1329.9 279.3C1334.9 288.2 1336.3 297.1 1338.5 306.1C1340.7 315 1342.4 328.4 1343.1 332.9" style="stroke-width:3"/>
<path class="l" d="M1284.4 240C1289.5 241.5 1306.3 243 1314.9 248.9C1323.5 254.9 1331.1 266.9 1336 275.9C1341 284.8 1342.3 293.8 1344.5 302.8C1346.7 311.7 1348.3 325.2 1349 329.7" style="stroke-width:3"/>
<path class="l" d="M1291.4 236.4C1296.4 237.9 1313 239.4 1321.4 245.4C1329.9 251.4 1337.3 263.4 1342.2 272.4C1347 281.5 1348.3 290.5 1350.5 299.5C1352.6 308.5 1354.2 322 1354.9 326.5" style="stroke-width:3"/>
<path class="l" d="M1298.4 232.9C1303.3 234.4 1319.7 235.9 1328 241.9C1336.3 247.9 1343.6 260 1348.3 269C1353 278.1 1354.3 287.1 1356.4 296.2C1358.5 305.2 1360.1 318.8 1360.8 323.3" style="stroke-width:3"/>
<path class="l" d="M1305.3 229.3C1310.2 230.8 1326.4 232.4 1334.5 238.4C1342.7 244.5 1349.8 256.6 1354.4 265.6C1359.1 274.7 1360.4 283.8 1362.4 292.9C1364.4 302 1366 315.6 1366.7 320.1" style="stroke-width:3"/>
<path class="l" d="M1312.3 225.8C1317.1 227.3 1333 228.8 1341.1 234.9C1349.1 241 1356 253.1 1360.6 262.2C1365.1 271.4 1366.4 280.5 1368.4 289.6C1370.4 298.7 1371.9 312.4 1372.6 316.9" style="stroke-width:3"/>
<polygon class="b" points="1219.9,272.7 1312.3,225.5 1324,230.7 1235.5,276.6" style="stroke-width:1"/>
<polyline class="l" points="1296,358.9 1372.6,316.9"/>
<polyline class="k" points="1373.4,316.9 1449.5,274.2"/>
<path class="l" d="M1449.5 274.2C1450.9 273.2 1455 270 1458 268C1461 266 1465.8 263.1 1467.3 262.1"/>
<polyline class="l" points="1467.3,262.1 1529.4,297.5"/>
<polyline class="t" points="1472,262.1 1530.2,295.2"/>
<polyline class="l" points="1546.5,311.5 1619.5,356.5"/>
<polyline class="t" points="1549.6,310.7 1624.2,358.1"/>
<path class="k" d="M1449.5 275 L1582.2 356.5 Q1588.4 365.1 1581.5 373.6 L1506.9 416.3 Q1493.7 421 1489.1 406.2"/>
<path class="l" d="M1489.1 406.2C1488 403.4 1484.9 394.8 1482.9 389.1C1480.8 383.4 1479.8 377.2 1476.6 372C1473.5 366.9 1468.9 362.1 1464.2 358.1C1459.6 354.1 1455.2 351.5 1448.7 348C1442.2 344.5 1433.2 340.4 1425.4 337.1C1417.6 333.8 1410.8 331.6 1402.1 328.3C1393.4 324.9 1378.2 318.8 1373.4 316.9"/>
<ellipse class="l" cx="1354.8" cy="349.5" rx="13" ry="8"/>
<polyline class="t" points="1347.8,354.2 1361.7,344.9"/>
<polygon class="k" points="1362.5,386 1416.1,357.3 1444,379.8 1391.2,410.9" style="stroke-width:5;stroke-linejoin:round"/>
<path class="l" d="M1301.6 362.3C1304.7 365.1 1313.6 373.2 1320 379C1326.4 384.8 1331.5 389.7 1340 396.8C1348.5 403.9 1362 414.1 1371 421.6C1380 429.1 1388.3 436.4 1394.3 441.8C1400.3 447.2 1403.5 450.6 1406.8 454.2C1410.1 457.8 1413.2 460.6 1414.2 463.5C1415.2 466.4 1414 469.4 1413 471.3C1412 473.2 1409.1 474.1 1408.3 474.7"/>
<polyline class="l" points="1408.3,474.7 1340,510.1 1331,515.5"/>
<path class="l" d="M1331 515.5C1329.5 515.1 1323.9 514.4 1322 513C1320.1 511.6 1319.9 508.2 1319.5 507.3"/>
<polyline class="t" points="1604,366.5 1328,513.4"/>
<polyline class="l" points="1615,369.5 1331,519.5"/>
<polyline class="t" points="1616,372.4 1329.5,523.3"/>
<polyline class="t" points="1617,375.2 1328,527.1"/>
<polyline class="t" points="1618,378.1 1326.5,530.9"/>
<polyline class="l" points="1619,381 1331.7,536.7"/>
<polyline class="l" points="1619.5,389 1331.7,549.3"/>
<polyline class="l" points="1619.5,403 1334.8,566.3"/>
<polyline class="l" points="1619.5,378.1 1619.5,403"/>
<path class="k" d="M1619.5 356.5C1620.8 357.6 1625.7 360.7 1627.3 362.7C1628.9 364.8 1629.4 366.6 1629.1 368.9C1628.9 371.3 1627.3 374.6 1625.7 376.7C1624.1 378.8 1620.5 380.6 1619.5 381.4"/>
<path class="l" d="M1611.7 358.1C1613 359.2 1618.5 362.7 1619.5 365.1C1620.5 367.4 1619 370.4 1618 372C1616.9 373.7 1614.1 374.6 1613.3 375.2"/>
<path class="k" d="M1302.2 538.4C1303.3 539 1306.1 541.4 1308.4 542.3C1310.8 543.1 1313.6 543.5 1316.2 543.4C1318.8 543.2 1321.4 542.6 1324 541.5C1326.6 540.4 1330.4 537.6 1331.7 536.8"/>
<path class="l" d="M1289.8 544.6C1291.9 545.5 1297.8 549 1302.2 550C1306.6 551.1 1311.3 551.7 1316.2 550.8C1321.1 549.9 1329.2 545.6 1331.7 544.6"/>
<polyline class="l" points="1331.7,549.3 1334.8,566.3"/>
<polyline class="t" points="1331.7,536.8 1331.7,549.3"/>
<path class="l" d="M1088.7 405.6C1087.6 406.3 1083.4 407.6 1081.7 409.5C1080.1 411.4 1079.5 413.6 1078.9 417.3C1078.4 420.9 1078.2 427.1 1078.3 431.2C1078.4 435.4 1078.6 439.1 1079.4 442.1C1080.2 445.1 1081.4 447.3 1083.3 449.1C1085.2 450.9 1089.8 452.3 1091.1 453"/>
<polyline class="t" points="1091.1,404.8 1187.3,456.9"/>
<polyline class="k" points="1088.7,418.5 1302.2,538.4"/>
<polyline class="t" points="1089.5,421.1 1299.9,539.9"/>
<polyline class="l" points="1089.5,431.2 1289.8,544.6"/>
<polyline class="t" points="1089.5,408 1089.5,442.1"/>
<polyline class="l" points="1091.1,453 1165.6,494.9 1167.1,505.8 1206,529.1 1210.6,521.3 1289.8,566.3 1291.4,546.9"/>
<polyline class="k" points="1176.5,479.4 1176.5,504.2 1199.8,516.6 1202.9,493.4"/>
<polyline class="t" points="1182.7,483.3 1182.7,502.7 1196.6,509.7 1199,491.8"/>
<path class="l" d="M1192 468.5C1192.5 464.6 1193.8 453.1 1195.1 445.2C1196.4 437.3 1198.2 426.6 1199.8 421.1C1201.3 415.7 1202.6 414.7 1204.4 412.6C1206.2 410.5 1207.8 410.3 1210.6 408.7C1213.5 407.2 1219.7 404.2 1221.5 403.3"/>
<path class="l" d="M1221.5 403.3C1223 403.8 1226.7 404.3 1230.8 406.4C1234.9 408.5 1241.2 412.1 1246.3 415.7C1251.5 419.3 1256.7 423.5 1261.9 428.1C1267 432.8 1272.7 438.7 1277.4 443.7C1282 448.6 1287.1 454.6 1289.8 457.6C1292.5 460.7 1293 461.3 1293.7 462"/>
<path class="l" d="M1206 416.5C1207.5 416.4 1211.1 414.3 1215.3 415.7C1219.4 417.1 1225.6 421.1 1230.8 425C1236 428.9 1241.2 433.8 1246.3 439C1251.5 444.2 1257.2 449.9 1261.9 456.1C1266.5 462.3 1270.4 469.3 1274.3 476.3C1278.2 483.3 1281.8 490.8 1285.2 498C1288.5 505.3 1292 514.3 1294.5 519.8C1296.9 525.2 1299 528.8 1299.9 530.6"/>
<path class="t" d="M1207.5 425C1210.1 426.3 1217.9 429.2 1223 432.8C1228.2 436.4 1233.4 441.1 1238.6 446.8C1243.7 452.5 1249.4 460 1254.1 467C1258.8 473.9 1262.6 481.7 1266.5 488.7C1270.4 495.7 1273.9 502.7 1277.4 508.9C1280.9 515.1 1285.8 523.1 1287.5 526"/>
<polyline class="t" points="1277.4,508.9 1299.9,501.1 1314.7,533"/>
<path class="k" d="M1293.7 462C1295.6 461.8 1301.3 459.9 1305.3 460.7C1309.4 461.6 1314.4 463.9 1317.8 467C1321.1 470.1 1324.1 475.2 1325.5 479.4C1327 483.5 1327.1 487.9 1326.3 491.8C1325.5 495.7 1322.3 500.1 1320.9 502.7C1319.4 505.3 1317.5 505.4 1317.8 507.3C1318 509.3 1319.8 512.8 1322.4 514.3C1325 515.9 1329.4 517.3 1333.3 516.6C1337.2 516 1341.3 512.8 1345.7 510.4C1350.2 508.1 1357.6 504 1360 502.7"/>
<ellipse class="k" cx="1302.2" cy="480.9" rx="16" ry="13.5" transform="rotate(-10 1302.2 480.9)"/>
<path class="l" d="M1292.9 491.8C1294.5 491.3 1298.9 489.1 1302.2 488.7C1305.6 488.3 1310.8 489.7 1313.1 489.5C1315.4 489.2 1315.7 487.5 1316.2 487.1"/>
<polyline class="t" points="1314.7,479.4 1315.4,488.7"/>
</g>
<g id="uvc">
<path class="b" d="M1154.2 566.9C1155.6 564 1159.9 560.7 1163.6 559.7C1167.2 558.6 1168.7 558.5 1176 560.7C1183.2 562.9 1195.7 569.5 1207 573.1C1218.4 576.7 1236.2 580.9 1244.3 582.4C1252.4 584 1250 580.2 1255.7 582.4C1261.4 584.7 1275 592.6 1278.5 595.9C1281.9 599.2 1279.7 600.6 1276.4 602.1C1273.1 603.7 1263.8 602.3 1258.8 605.2C1253.8 608.2 1251.6 615.2 1246.4 619.7C1241.2 624.2 1232.9 629.8 1227.7 632.1C1222.6 634.4 1220.8 637.6 1215.3 633.6C1209.8 629.6 1202.9 616.3 1194.6 608.3C1186.3 600.3 1172.2 590.7 1165.6 585.5C1159.1 580.4 1157.2 580.4 1155.3 577.3C1153.4 574.2 1152.9 569.8 1154.2 566.9Z"/>
<path d="M1169.2 563.6 A4 8.9 28 0 0 1161.7 576.1" fill="none" stroke="#fff" stroke-width="2.8"/>
<path d="M1174.5 565 A4.7 10.4 28 0 0 1165.6 579.8" fill="none" stroke="#fff" stroke-width="2.8"/>
<path d="M1183.7 567.4 A5.9 13.2 28 0 0 1172.5 586.1" fill="none" stroke="#fff" stroke-width="2.8"/>
<path d="M1189.7 569 A6.7 14.9 28 0 0 1177 590.2" fill="none" stroke="#fff" stroke-width="2.8"/>
<path d="M1198.9 571.4 A8 17.7 28 0 0 1183.8 596.5" fill="none" stroke="#fff" stroke-width="2.8"/>
<path d="M1204.8 573 A8.8 19.5 28 0 0 1188.3 600.6" fill="none" stroke="#fff" stroke-width="2.8"/>
<path d="M1213.4 575.2 A9.9 22 28 0 0 1194.7 606.5" fill="none" stroke="#fff" stroke-width="2.8"/>
<polyline class="t" points="1224.6,594.9 1240.2,589.7" style="stroke:#ddd;stroke-width:1.8;stroke-dasharray:5 4"/>
<polyline class="t" points="1225.5,602.7 1241,597.6" style="stroke:#ddd;stroke-width:1.8;stroke-dasharray:5 4"/>
<polyline class="t" points="1226.3,610.6 1241.8,605.4" style="stroke:#ddd;stroke-width:1.8;stroke-dasharray:5 4"/>
<polyline class="t" points="1227.1,618.5 1242.7,613.3" style="stroke:#ddd;stroke-width:1.8;stroke-dasharray:5 4"/>
<polygon class="w" points="1071.4,707.7 1300.2,590.7 1318.8,591.8 1341.6,612.5 1350.3,639.4 1349.9,704.6 1331.3,713.9 1293,684.9 1254.7,710.8 1154.2,767.7 1132.5,795.7 1087,823.6 1070.4,726.3" style="stroke:none"/>
<path class="l" d="M1247.4 619.7C1248.4 618 1250.9 612.3 1253.6 609.4C1256.4 606.4 1260.4 603.6 1264 602.1C1267.6 600.6 1273.5 600.7 1275.4 600.5" style="stroke:#fff;stroke-width:5"/>
<polyline class="l" points="1071.4,707.7 1300.2,590.7"/>
<polyline class="l" points="1142.9,680.8 1311.6,594.2"/>
<path class="l" d="M1300.2 590.7C1301.6 590.5 1305.4 589.1 1308.5 589.3C1311.6 589.4 1315 590 1318.8 591.8C1322.6 593.6 1327.5 596.6 1331.3 600C1335.1 603.5 1338.7 608 1341.6 612.5C1344.5 616.9 1347.4 622.5 1348.9 627C1350.3 631.4 1350.1 637.3 1350.3 639.4"/>
<path class="t" d="M1311.6 594.2C1313.5 595.6 1319.4 598.7 1323 602.1C1326.6 605.5 1330.6 610.4 1333.3 614.5C1336.1 618.7 1338.5 624.9 1339.5 627"/>
<polyline class="l" points="1154.2,767.7 1246.4,715.6"/>
<polyline class="l" points="1281.6,694.9 1293,684.9"/>
<polyline class="l" points="1293,682.9 1293,684.9 1331.3,713.9 1349.9,704.6 1349.9,637.3"/>
<polyline class="l" points="1331.3,652.8 1331.3,713.9"/>
<polyline class="t" points="1339.5,649.7 1339.5,709.4"/>
<polygon class="w" points="1245.3,696.3 1280.5,676.6 1280.5,743.9 1251.6,764.6"/>
<polyline class="k" points="1251.6,764.6 1280.5,743.9" style="stroke-width:5"/>
<polyline class="l" points="1245.3,696.3 1241.8,722.2 1251.6,764.6"/>
<polyline class="l" points="1225.7,722.2 1226.7,726.3"/>
<polyline class="l" points="1103.5,694.2 1136.6,674.6 1142.9,677.7"/>
<polyline class="t" points="1109.7,697.3 1142.9,679.1"/>
<polyline class="l" points="1132.5,688 1144.9,694.2 1128.4,700.5"/>
<polyline class="t" points="1091.1,707.7 1107.7,699.4 1097.3,711.8"/>
<path class="k" d="M1070.8 707.7C1073 708.1 1080.1 709.1 1083.9 710C1087.6 711 1089.9 711.5 1093.2 713.3C1096.5 715.1 1100.3 718.1 1103.4 720.8C1106.6 723.4 1109.2 726 1111.8 729.1C1114.5 732.2 1117.1 735.8 1119.3 739.4C1121.5 743 1123.3 746.7 1124.9 750.6C1126.5 754.5 1128.1 758.8 1129.1 762.7C1130 766.6 1130.5 769.5 1130.5 773.9C1130.5 778.2 1130.8 784.4 1129.1 788.8C1127.4 793.1 1121.7 798.1 1120.2 800"/>
<path class="l" d="M1072.7 714.4C1075.5 715 1084.5 715.8 1089.5 718C1094.4 720.1 1098.8 723.6 1102.5 727.3C1106.2 731 1109.4 735.7 1111.8 740.3C1114.3 745 1116 750.3 1117.4 755.2C1118.8 760.2 1119.9 765.5 1120.2 770.1C1120.5 774.8 1120.1 779.5 1119.3 783.2C1118.5 786.9 1116.2 791 1115.6 792.5"/>
<path class="l" d="M1092.3 704C1094.7 705.1 1102.4 707.2 1107.2 710.5C1112 713.8 1117.3 718.9 1121.2 723.6C1125 728.2 1128 733.2 1130.5 738.5C1133 743.7 1134.8 750 1136.1 755.2C1137.3 760.5 1137.8 765.5 1137.9 770.1C1138.1 774.8 1137.8 779.8 1137 783.2C1136.2 786.6 1133.9 789.4 1133.3 790.7"/>
<path class="l" d="M1124 702.1C1126.3 704.4 1134 710.7 1137.9 716.1C1141.8 721.5 1144.9 728.2 1147.3 734.7C1149.6 741.3 1151.6 748.7 1151.9 755.2C1152.2 761.8 1151.1 769.2 1149.1 773.9C1147.1 778.5 1142.6 780.7 1139.8 783.2C1137 785.7 1133.6 787.9 1132.3 788.8"/>
<path class="t" d="M1117.4 704.9C1119.6 706.6 1126.7 710.8 1130.5 715.2C1134.2 719.5 1137.3 725.3 1139.8 731C1142.3 736.8 1144.3 743.7 1145.4 749.6C1146.5 755.5 1146.2 763.6 1146.3 766.4"/>
<polygon class="w" points="1020,740.8 1070.8,714 1105.3,731 1111.8,742.2 1111.8,781.8 1105.3,788.8 1089.5,792.5 1093.2,820.5 1086.7,825.3 1050.8,807 1030.8,795.8 1023.3,799.5 1021.9,783.2 1011.2,781.3 1011.2,749.6 1020,745.9"/>
<polygon class="b" points="1051.1,758.5 1105.3,731.5 1111.4,742.7 1111.6,781.3 1105.3,788.3 1089.5,792.3 1067.1,806.3 1051.1,806.5"/>
<polygon class="wt" points="1059.6,761.9 1102.1,742.4 1103.3,745.9 1065.2,765.7" style="stroke:none"/>
<polygon class="b" points="1021,743.6 1030.3,749.6 1030.3,795.8 1023.3,799.5 1021.9,783.2"/>
<polygon class="b" points="1011.2,749.6 1021,746.8 1021.9,782.3 1016.8,781.3 1011.2,760.8"/>
<polyline class="l" points="1030.8,749.6 1050.8,759 1050.8,806.5"/>
<polyline class="l" points="1020,740.8 1050.8,758.5"/>
<polyline class="l" points="1023.8,745.2 1074.6,719.1"/>
<polyline class="l" points="1052.2,755.2 1094.1,733.8"/>
<polyline class="t" points="1055.9,758.5 1096.9,737.3"/>
<polyline class="t" points="1070.8,714 1094.1,733.8"/>
<ellipse class="b" cx="1037.3" cy="785.1" rx="2.6" ry="2.6"/>
<polyline class="k" points="1104.4,787.9 1104.4,801.8 1109.5,802.8 1116.5,795.3"/>
<polyline class="l" points="1093.2,820.5 1116.5,808.8 1133.3,798.6 1132.8,788.8"/>
<polyline class="l" points="1116.5,808.8 1116.5,800"/>
<polyline class="t" points="1067.1,806.3 1086.7,819.5"/>
</g>
<g id="rod">
<ellipse class="k" cx="1636.4" cy="576.5" rx="16" ry="9.5"/>
<ellipse class="w" cx="1636.4" cy="573" rx="16" ry="9.5" style="stroke-width:3.4"/>
<polyline class="t" points="1626,578 1647,568"/>
<polyline class="l" points="1633.3,583 1633.3,808 1636.6,816 1640,808 1640,583"/>
</g>
<g id="housing">
<polyline class="l" points="1146.3,1038.4 1148.2,1074.8 1277.5,1146.6 1277.5,1114.1"/>
<polyline class="l" points="1171.2,1087.2 1171.2,1098.7 1176,1101.6 1176,1092"/>
<polyline class="l" points="1181.7,1094.9 1182.7,1104.5 1250.7,1144.7 1262.1,1139.9 1262.1,1137"/>
<polyline class="t" points="1250.7,1144.7 1252.6,1136.1"/>
<polyline class="l" points="1273.6,1146.6 1281.3,1163.9 1290.9,1160 1290.9,1146.6"/>
<polyline class="t" points="1281.3,1163.9 1281.3,1148.5"/>
<polyline class="l" points="1277.5,1114.1 1310,1131.3"/>
<polyline class="t" points="1281.3,1117.9 1281.3,1146.6"/>
<polyline class="l" points="1277.5,1146.6 1309.1,1131.3"/>
<polyline class="l" points="1310,1129.4 1344.5,1149.5 1436.4,1098.7 1436.4,1062.4"/>
<polyline class="l" points="1344.5,1114.1 1344.5,1149.5"/>
<polyline class="t" points="1333,1119.8 1344.5,1114.1"/>
<polyline class="l" points="1446.4,1058 1476.8,1076.1 1543.5,1037.7 1544.9,1013"/>
<polyline class="l" points="1476.8,1037.7 1477.5,1076.1"/>
<polyline class="t" points="1481.2,1039.1 1481.2,1073.2"/>
<polyline class="l" points="1436.2,1062.3 1434.8,1100.7 1375.4,1133.3"/>
<polygon class="w" points="1096.4,977.2 1310,1094.9 1314.8,1094.9 1602.9,933 1626.8,923.2 1631.4,942 1623.2,952.2 1569.6,984.1 1568.1,994.2 1544.9,1010.1 1527.5,1018.8 1523.2,1011.6 1434.8,1060.9 1431.2,1069.6 1390.5,1095.9 1386.6,1089.2 1333,1117.9 1311.9,1125.9 1294.7,1117.9 1091.7,1008.3 1083.2,997.4 1081.6,985 1086.3,973.3" style="stroke:none"/>
<polyline class="l" points="1085.5,972.5 1370,814.9"/>
<polyline class="k" points="1098,968.7 1334,836.7" style="stroke-width:6"/>
<polyline class="k" points="1343.3,831.2 1393,803.3" style="stroke-width:6"/>
<polyline class="t" points="1106.5,974.1 1349.5,842.1"/>
<polyline class="l" points="1116.6,980.3 1194.2,936.8"/>
<polyline class="l" points="1197.3,929.1 1253.2,898"/>
<polyline class="l" points="1251.7,894.1 1349.5,840.6"/>
<path class="l" d="M1096.4 966.3C1094.7 967.5 1088.8 970.2 1086.3 973.3C1083.8 976.4 1082.2 981 1081.6 985C1081.1 989 1081.5 993.6 1083.2 997.4C1084.9 1001.1 1090.3 1005.8 1091.7 1007.5"/>
<path class="t" d="M1093.3 975.7C1092.8 977.5 1090.4 983.2 1090.2 986.5C1089.9 989.9 1091.5 994.3 1091.7 995.8"/>
<polyline class="k" points="1102.6,976.4 1136.8,1000.5" style="stroke-width:6"/>
<polyline class="l" points="1136.8,1000.5 1267.9,1073.8"/>
<polyline class="k" points="1267.9,1073.8 1310,1094.9" style="stroke-width:6"/>
<polyline class="l" points="1093.3,989.6 1294.7,1104.5"/>
<polyline class="l" points="1091.7,1008.3 1294.7,1117.9"/>
<polyline class="l" points="1121.2,985 1246.8,1048.9"/>
<path class="l" d="M1294.7 1104.5C1296 1105.4 1299.5 1108.9 1302.4 1110.2C1305.2 1111.6 1308.4 1112.7 1311.9 1112.5C1315.4 1112.4 1320.2 1110.9 1323.4 1109.3C1326.6 1107.6 1329.8 1103.7 1331.1 1102.6"/>
<path class="l" d="M1294.7 1117.9C1296 1118.8 1299.5 1122.3 1302.4 1123.6C1305.2 1125 1308.4 1126 1311.9 1125.9C1315.4 1125.9 1319.9 1124.6 1323.4 1123.3C1326.9 1121.9 1331.4 1118.8 1333 1117.9"/>
<polyline class="t" points="1294.7,1104.5 1294.7,1117.9"/>
<polyline class="t" points="1331.1,1102.6 1333,1117.9"/>
<polyline class="k" points="1310,1094.9 1312.9,1106.4"/>
<polyline class="k" points="1314.8,1094.9 1602.9,933" style="stroke-width:7.5;stroke-linecap:butt"/>
<polyline class="t" points="1321.5,1100.7 1613,933.6"/>
<polyline class="l" points="1331.1,1102.6 1621,938"/>
<polyline class="l" points="1623.2,952.2 1569.6,984.1 1568.1,994.2 1544.9,1010.1 1527.5,1018.8 1523.2,1011.6 1434.8,1060.9 1431.2,1069.6"/>
<polyline class="l" points="1431.2,1069.6 1390.5,1095.9 1386.6,1089.2 1333,1117.9"/>
<polyline class="t" points="1623.9,943.5 1434.8,1050.7"/>
<polyline class="k" points="1527.5,985.5 1533.3,1005.8 1556.5,992.8 1559.4,971 1553.6,969.3"/>
<polygon class="l" points="1546.4,985.5 1546.4,995.9 1556.5,990.1 1556.5,980.4"/>
<polyline class="k" points="1394.3,1064.3 1398.1,1079.6 1417.3,1070 1419.2,1052.8"/>
<polyline class="k" points="1179.8,1056.6 1185.5,1049.3 1201.2,1057.6 1197,1068.5 1180.8,1059.5"/>
<path class="l" d="M1602.9 933C1605.3 932.4 1613.4 930.6 1617.4 929C1621.4 927.3 1624.6 923.2 1626.8 923.2C1629 923.2 1629.7 925.8 1630.4 929C1631.2 932.1 1632.7 938.1 1631.4 942C1630.2 945.9 1624.6 950.7 1623.2 952.5"/>
<path class="t" d="M1621 938C1621.3 938.9 1622.1 941.1 1622.5 943.5C1622.8 945.8 1623.1 950.7 1623.2 952.2"/>
<path class="k" d="M1394.3 798.6C1394.6 797.9 1394.9 795.1 1396.6 794.3C1398.3 793.5 1401.2 793.1 1404.3 793.7C1407.5 794.2 1413.4 796.8 1415.2 797.4" style="stroke-width:6"/>
<polyline class="k" points="1415.2,797.4 1548.8,873.2" style="stroke-width:6"/>
<polyline class="k" points="1570.5,885.6 1612.4,909.7" style="stroke-width:6"/>
<polyline class="k" points="1578.3,898 1604.7,912" style="stroke-width:5"/>
<polyline class="l" points="1441.6,825 1542.5,887.1"/>
<polyline class="t" points="1446.3,831.2 1530.1,882.5"/>
<polyline class="l" points="1550.3,891.8 1598.4,919.8"/>
<polyline class="t" points="1556.5,902.7 1595.3,926"/>
<polyline class="t" points="1598.4,919.8 1595.3,926"/>
<polyline class="l" points="1395,800.2 1395,831.2 1412.1,828.1 1437,815.7"/>
<polyline class="l" points="1396.6,831.2 1403.6,832.8 1412.1,830.5"/>
<polyline class="k" points="1401.2,804.8 1419.9,814.9 1401.2,825"/>
<polyline class="l" points="1412.1,830.5 1418.3,834.3 1404.3,958.6"/>
<polyline class="t" points="1418.3,834.3 1412.1,950.8"/>
<polyline class="l" points="1438.5,820.4 1444.7,873.2 1461,864.6 1461.8,922.9 1412.1,949.3"/>
<polyline class="l" points="1438.5,820.4 1443.2,819.6 1461.8,831.2 1461,864.6"/>
<polyline class="t" points="1444.7,873.2 1443.2,842.1"/>
<polyline class="l" points="1395,885.6 1404.3,958.6 1412.1,950"/>
<polyline class="l" points="1480.4,936.8 1509.9,953.9 1510.7,980.3"/>
<polyline class="t" points="1482,939.9 1508.4,955.5"/>
<polyline class="l" points="1509.9,953.9 1519.3,950 1522.4,969.4"/>
<polyline class="l" points="1514.6,957 1565.1,929.1 1567.4,946.1"/>
<polyline class="l" points="1523.9,963.2 1565.8,939.9"/>
<polyline class="l" points="1565.1,929.1 1578.3,936.8"/>
<polyline class="l" points="1441.6,960.1 1492.9,989.6"/>
<polyline class="l" points="1436.2,963.2 1485.1,992"/>
<polyline class="t" points="1424.5,968.7 1472.7,997.4"/>
<polyline class="l" points="1401.2,1017.6 1442.4,995.8 1443.2,1017.6"/>
<polyline class="l" points="1402.8,1022.2 1415.2,1028.4"/>
<polyline class="l" points="1442.4,995.8 1458.7,1005.2"/>
<polyline class="l" points="1405.9,1026.9 1441.6,1007.5"/>
<polyline class="l" points="1350,1003.6 1402,1034.7 1402.8,1044"/>
<polyline class="t" points="1343.8,1008.3 1396.6,1039.3"/>
<polyline class="l" points="1296.6,1056.6 1294.7,1087.2"/>
<polyline class="l" points="1307.1,1056.6 1309.1,1093"/>
<ellipse class="k" cx="1302" cy="1056.2" rx="5.5" ry="3"/>
<polyline class="l" points="1309.1,1075.8 1317.7,1067.1 1338.7,1079.6"/>
<polyline class="t" points="1317.7,1067.1 1318.6,1087.2"/>
<polygon class="l" points="1330.2,1000.7 1341.1,994.5 1407.8,1033.3 1400.1,1041.1"/>
<polyline class="t" points="1341.1,1000.7 1401.6,1034.8"/>
<polyline class="t" points="1400.1,1041.1 1400.1,1058.1"/>
<polyline class="l" points="1407.8,1033.3 1442,1016.2 1445.1,1033.3"/>
<polyline class="t" points="1407.8,1048.8 1443.5,1030.2"/>
<polyline class="l" points="1133.7,988.1 1152.3,977.2 1186.5,997.4 1166.3,1008.3"/>
<polyline class="l" points="1152.3,977.2 1153.1,997.4"/>
<polyline class="l" points="1186.5,997.4 1188.8,1023.8"/>
<polyline class="t" points="1169.4,1009.8 1188,1022.2"/>
<polygon class="l" points="1175.6,949.3 1198.9,938.4 1220.6,950.8 1221.4,960.9 1200.4,971.8 1174,960.1"/>
<polyline class="l" points="1171.7,960.1 1174,960.1"/>
<polyline class="l" points="1172.5,960.9 1170.9,1012.9"/>
<polyline class="t" points="1174,960.9 1173.3,1014.5"/>
<polyline class="l" points="1200.4,971.8 1198.9,1031.6"/>
<polyline class="l" points="1203.5,971 1203.5,1032.3"/>
<polyline class="l" points="1221.4,960.9 1224.5,1022.2 1204.3,1032.3"/>
<polyline class="l" points="1197.3,924.4 1194.2,935.3"/>
<polyline class="t" points="1194.2,924.4 1198.9,938.4"/>
<path class="l" d="M1222.2 916.6C1224 917.9 1229.7 922.7 1233 924.4C1236.4 926.1 1239 926.9 1242.4 926.7C1245.7 926.6 1247.3 927 1253.2 923.6C1259.2 920.3 1273.9 909.4 1278.1 906.6"/>
<polyline class="l" points="1256.3,925.2 1248.6,1044 1293.6,1022.2 1282.7,908.9 1278.1,906.6"/>
<polyline class="l" points="1262.5,923.6 1255.6,1042.4"/>
<polyline class="t" points="1248.6,1044 1253.2,1048.6 1264.1,1042.4"/>
<polyline class="l" points="1197.3,925.2 1222.2,916.6"/>
<polyline class="l" points="1225.3,1022.2 1248.6,1036.2"/>
<polyline class="t" points="1223,915.4 1252.5,899.9" style="stroke-width:2"/>
<polyline class="t" points="1226.4,914.2 1255.9,898.6" style="stroke-width:2"/>
<polyline class="t" points="1229.8,912.9 1259.3,897.4" style="stroke-width:2"/>
<polyline class="t" points="1233.2,911.7 1262.7,896.1" style="stroke-width:2"/>
<polyline class="t" points="1236.6,910.4 1266.1,894.9" style="stroke-width:2"/>
<polyline class="l" points="1287.4,920.5 1312.2,908.9 1315.3,972.5 1292,983.7"/>
<polyline class="l" points="1285.8,879.4 1288.9,879.4 1312.2,891.8 1312.2,908.9"/>
<polyline class="l" points="1315.3,972.5 1348,992.7"/>
<polyline class="l" points="1288.9,879.4 1349.5,910.4 1370,899.6"/>
<polyline class="l" points="1293.6,874.7 1354.2,905.8 1370,897.2"/>
<polyline class="l" points="1302.9,876.3 1334,860.7 1358.8,873.2"/>
<polyline class="t" points="1309.1,879.4 1332.4,867 1355.7,879.4"/>
<polyline class="l" points="1349.5,910.4 1346.4,991.2"/>
<polyline class="l" points="1354.2,912 1351.8,988.1"/>
<polyline class="t" points="1334,860.7 1334,867"/>
<polyline class="l" points="1351.9,906 1362.8,901.3 1365.9,977.4 1353.5,983.6 1348.8,909.1"/>
<polyline class="l" points="1365.9,977.4 1398.5,958.8"/>
<polyline class="l" points="1330.2,862.5 1358.1,878 1358.1,902.9"/>
<polyline class="l" points="1339.5,853.2 1370.6,868.7"/>
</g>
<g id="foams">
<polygon class="w" points="1512.5,1137.7 1583.3,1097.4 1759.3,1199.7 1759.3,1366.8 1688.5,1408.2 1512.5,1304.9" style="stroke-width:2.2"/>
<polyline class="l" points="1512.5,1137.7 1688.5,1239 1759.3,1199.7" style="stroke-width:2.2"/>
<polyline class="l" points="1688.5,1239 1688.5,1408.2" style="stroke-width:2.2"/>
<polyline class="k" points="1576.4,1134.7 1693.4,1202.6" style="stroke-width:4.2;stroke-linecap:butt;stroke-dasharray:2.2 0.5"/>
<polygon class="w" points="1261,1251 1332.5,1210 1505.5,1312.5 1507,1478 1437,1517.7 1261,1417.6" style="stroke-width:2.2"/>
<polyline class="l" points="1261,1251 1437,1351 1505.5,1312.5" style="stroke-width:2.2"/>
<polyline class="l" points="1437,1351 1437,1517.7" style="stroke-width:2.2"/>
<polyline class="k" points="1326.5,1249 1443,1315" style="stroke-width:4.2;stroke-linecap:butt;stroke-dasharray:2.2 0.5"/>
</g>
<g id="frames">
<path class="w" d="M1549.1 1651.2 L1578 1635.4 L1720.6 1704.9 Q1726.1 1708.4 1721.5 1715.3 L1687.9 1734.7 Q1682.4 1737.7 1675.8 1733.9 L1546.3 1660.5 Q1540.7 1656.8 1549.1 1651.2 Z" style="stroke-width:2.8"/>
<polyline class="l" points="1563.1,1632.9 1565,1645.6 1577.1,1652.5"/>
<polyline class="t" points="1563.1,1632.9 1568.3,1635.2 1569.3,1644.1"/>
<polyline class="l" points="1558.4,1665.6 1589.2,1648.6" style="stroke-width:3.3;stroke-linecap:butt"/>
<polyline class="l" points="1566.1,1669.7 1596.9,1652.7" style="stroke-width:3.3;stroke-linecap:butt"/>
<polyline class="l" points="1573.9,1673.8 1604.6,1656.8" style="stroke-width:3.3;stroke-linecap:butt"/>
<polyline class="l" points="1581.6,1677.9 1612.3,1660.9" style="stroke-width:3.3;stroke-linecap:butt"/>
<polyline class="l" points="1589.3,1682 1620,1665" style="stroke-width:3.3;stroke-linecap:butt"/>
<polyline class="l" points="1597,1686 1627.7,1669.1" style="stroke-width:3.3;stroke-linecap:butt"/>
<polyline class="l" points="1604.7,1690.1 1635.4,1673.2" style="stroke-width:3.3;stroke-linecap:butt"/>
<polyline class="l" points="1612.4,1694.2 1643.1,1677.3" style="stroke-width:3.3;stroke-linecap:butt"/>
<polyline class="l" points="1620.1,1698.3 1650.8,1681.4" style="stroke-width:3.3;stroke-linecap:butt"/>
<polyline class="l" points="1627.8,1702.4 1658.5,1685.5" style="stroke-width:3.3;stroke-linecap:butt"/>
<polyline class="l" points="1635.5,1706.5 1666.2,1689.6" style="stroke-width:3.3;stroke-linecap:butt"/>
<polyline class="l" points="1643.2,1710.6 1673.9,1693.7" style="stroke-width:3.3;stroke-linecap:butt"/>
<polyline class="l" points="1650.9,1714.7 1677.5,1700.1" style="stroke-width:3.3;stroke-linecap:butt"/>
<polyline class="l" points="1658.6,1718.8 1681.1,1706.4" style="stroke-width:3.3;stroke-linecap:butt"/>
<polyline class="l" points="1666.3,1722.9 1684.7,1712.8" style="stroke-width:3.3;stroke-linecap:butt"/>
<polyline class="l" points="1674,1727 1688.3,1719.2" style="stroke-width:3.3;stroke-linecap:butt"/>
<polyline class="l" points="1679.6,1701.9 1704.7,1716.8 1705.6,1724.6"/>
<polyline class="t" points="1690.7,1694.4 1715,1707.8"/>
<polyline class="l" points="1660.9,1720.9 1687.4,1735.1"/>
<polyline class="t" points="1704.7,1716.8 1724.3,1708.4"/>
<polygon class="w" points="1585.5,1406.6 1601.3,1397.2 1683.7,1445.1 1683.7,1703.8 1660.9,1697.2 1586.4,1655.3" style="stroke:none"/>
<path class="k" d="M1585.5 1406.6C1586.6 1405.6 1589.3 1402.5 1592 1401C1594.6 1399.4 1597.6 1397.4 1601.3 1397.2C1605 1397.1 1607.5 1397.1 1614.3 1400C1621.2 1403 1632.7 1409.4 1642.3 1414.9C1651.9 1420.5 1665.2 1428.6 1672.1 1433.6C1679 1438.6 1681.7 1443.2 1683.7 1445.1" style="stroke-width:4"/>
<path class="l" d="M1586.4 1410.3C1587.9 1409.5 1592 1405.9 1595.7 1405.6C1599.4 1405.3 1601 1405.3 1608.8 1408.4C1616.5 1411.5 1633.6 1419.6 1642.3 1424.3C1651 1428.9 1656.4 1432.3 1660.9 1436.4C1665.4 1440.4 1667.9 1446.5 1669.3 1448.5"/>
<path class="k" d="M1604.1 1417.7C1605.2 1417.6 1604.3 1414.2 1610.6 1416.8C1617 1419.5 1633.9 1428.6 1642.3 1433.6C1650.7 1438.5 1656.5 1443.1 1660.9 1446.6C1665.3 1450.1 1667.4 1453.1 1668.8 1454.4"/>
<polyline class="l" points="1614.3,1422.4 1659.1,1447.6" style="stroke-dasharray:8 5;stroke-width:2.8"/>
<polyline class="k" points="1586,1406.6 1587.1,1654.9" style="stroke-width:4.2"/>
<polyline class="l" points="1592,1409.4 1593.1,1656.2"/>
<polyline class="k" points="1597.2,1413.1 1598.3,1658.1"/>
<polyline class="k" points="1603.7,1417.7 1604.3,1469"/>
<path class="k" d="M1594.8 1441C1595.6 1443.8 1597.7 1453 1599.4 1457.8C1601.1 1462.6 1602.9 1466.2 1605 1469.9C1607.2 1473.6 1610.3 1475.3 1612.5 1480.2C1614.7 1485 1615 1493.2 1618.1 1498.8C1621.2 1504.4 1626.5 1510.1 1631.1 1513.7C1635.8 1517.3 1641.7 1519.6 1646 1520.2C1650.4 1520.8 1654.1 1519.4 1657.2 1517.4C1660.3 1515.4 1662.7 1512.5 1664.7 1508.1C1666.6 1503.8 1668.1 1494.1 1668.8 1491.3" style="stroke-width:4"/>
<path class="l" d="M1612.5 1480.2C1613.3 1479.5 1616.2 1475 1617.1 1476.4C1618.1 1477.8 1617.9 1486.5 1618.1 1488.5"/>
<polyline class="k" points="1668.8,1451.3 1668.8,1506.2"/>
<polyline class="l" points="1674.9,1447 1674.9,1515.6"/>
<polyline class="t" points="1679.2,1448.9 1679.2,1517.4"/>
<polyline class="k" points="1683.7,1445.1 1683.7,1517.4" style="stroke-width:4.2"/>
<path class="w" d="M1581.2 1488.5C1581.5 1485.8 1583.2 1482 1585.5 1481.1C1587.7 1480.2 1593 1480.9 1594.8 1483C1596.6 1485 1596.8 1490.4 1596.1 1493.2C1595.4 1496 1592.6 1498.9 1590.5 1499.7C1588.4 1500.5 1585.2 1499.7 1583.6 1497.9C1582 1496 1580.9 1491.3 1581.2 1488.5Z" style="stroke-width:3.4"/>
<polyline class="l" points="1586.4,1483.9 1591.1,1497.9"/>
<path class="w" d="M1672.5 1529.5C1673.1 1526.5 1677.1 1524.4 1679.6 1523.9C1682 1523.5 1685.8 1524.9 1687.4 1527.1C1689 1529.3 1689.9 1534.1 1689.2 1537C1688.6 1539.9 1685.9 1543.6 1683.7 1544.4C1681.4 1545.3 1677.7 1544.5 1675.8 1542C1674 1539.5 1671.9 1532.5 1672.5 1529.5Z" style="stroke-width:3.4"/>
<polyline class="l" points="1678.6,1526.7 1682.9,1543.1"/>
<polyline class="k" points="1605,1491.3 1605,1659.8" style="stroke-width:4"/>
<polyline class="t" points="1607.6,1493.6 1607.6,1660.9"/>
<polyline class="l" points="1611,1493.2 1611,1662.8"/>
<polyline class="k" points="1617.3,1495.1 1617.3,1665" style="stroke-width:4"/>
<polyline class="l" points="1605,1659.8 1617.3,1665"/>
<polyline class="k" points="1620.9,1515.6 1620.9,1672.4" style="stroke-width:4"/>
<polyline class="t" points="1623.5,1517.8 1623.5,1673.6"/>
<polyline class="l" points="1627.4,1517.4 1627.4,1675.4"/>
<polyline class="k" points="1636,1519.3 1636,1677.7" style="stroke-width:4"/>
<polyline class="l" points="1620.9,1672.4 1636,1677.7"/>
<polyline class="k" points="1641.4,1521.5 1641.4,1685.5" style="stroke-width:4"/>
<polyline class="t" points="1644,1523.8 1644,1686.6"/>
<polyline class="l" points="1647.3,1523.4 1647.3,1688.5"/>
<polyline class="k" points="1656.5,1525.3 1656.5,1690.7" style="stroke-width:4"/>
<polyline class="l" points="1641.4,1685.5 1656.5,1690.7"/>
<polyline class="k" points="1661.9,1518.4 1661.9,1697" style="stroke-width:4"/>
<polyline class="t" points="1664.5,1520.6 1664.5,1698.2"/>
<polyline class="l" points="1669.3,1520.2 1669.3,1700"/>
<polyline class="k" points="1679,1522.1 1679,1702.3" style="stroke-width:4"/>
<polyline class="l" points="1661.9,1697 1679,1702.3"/>
<polyline class="l" points="1587.1,1654.9 1605,1660.9"/>
<polyline class="k" points="1683.7,1545.4 1683.7,1703.8"/>
<polygon class="w" points="1593.3,1538.9 1597.8,1541.1 1597.8,1546.7 1593.3,1544.4" style="stroke-width:2.6"/>
<polygon class="w" points="1611.2,1549.1 1617.1,1552.1 1617.1,1557.7 1611.2,1554.7" style="stroke-width:2.6"/>
<polygon class="w" points="1627.6,1559.3 1633.5,1562.3 1633.5,1567.9 1627.6,1564.9" style="stroke-width:2.6"/>
<polygon class="w" points="1647.5,1569.6 1653.5,1572.6 1653.5,1578.2 1647.5,1575.2" style="stroke-width:2.6"/>
<polygon class="w" points="1669.9,1579.8 1678.8,1584.3 1678.8,1589.9 1669.9,1585.4" style="stroke-width:2.6"/>
<polygon class="w" points="1593.3,1579.8 1597.8,1582.1 1597.8,1587.7 1593.3,1585.4" style="stroke-width:2.6"/>
<polygon class="w" points="1611.2,1590.1 1617.1,1593.1 1617.1,1598.7 1611.2,1595.7" style="stroke-width:2.6"/>
<polygon class="w" points="1627.6,1600.3 1633.5,1603.3 1633.5,1608.9 1627.6,1605.9" style="stroke-width:2.6"/>
<polygon class="w" points="1647.5,1610.6 1653.5,1613.6 1653.5,1619.2 1647.5,1616.2" style="stroke-width:2.6"/>
<polygon class="w" points="1669.9,1620.8 1678.8,1625.3 1678.8,1630.9 1669.9,1626.4" style="stroke-width:2.6"/>
<polygon class="w" points="1593.3,1620.8 1597.8,1623.1 1597.8,1628.7 1593.3,1626.4" style="stroke-width:2.6"/>
<polygon class="w" points="1611.2,1631.1 1617.1,1634.1 1617.1,1639.7 1611.2,1636.7" style="stroke-width:2.6"/>
<polygon class="w" points="1627.6,1641.3 1633.5,1644.3 1633.5,1649.9 1627.6,1646.9" style="stroke-width:2.6"/>
<polygon class="w" points="1647.5,1651.6 1653.5,1654.6 1653.5,1660.2 1647.5,1657.2" style="stroke-width:2.6"/>
<polygon class="w" points="1669.9,1661.8 1678.8,1666.3 1678.8,1671.9 1669.9,1667.4" style="stroke-width:2.6"/>
<polygon class="w" points="1647.5,1661.8 1653.5,1664.8 1653.5,1670.4 1647.5,1667.4" style="stroke-width:2.6"/>
<polygon class="w" points="1669.9,1672.1 1678.8,1676.5 1678.8,1682.1 1669.9,1677.7" style="stroke-width:2.6"/>
<path class="w" d="M1298.6 1764.2 L1327.5 1748.4 L1470.1 1817.9 Q1475.6 1821.4 1471 1828.3 L1437.4 1847.7 Q1431.9 1850.7 1425.3 1846.9 L1295.8 1773.5 Q1290.2 1769.8 1298.6 1764.2 Z" style="stroke-width:2.8"/>
<polyline class="l" points="1312.6,1745.9 1314.5,1758.6 1326.6,1765.5"/>
<polyline class="t" points="1312.6,1745.9 1317.8,1748.2 1318.8,1757.1"/>
<polyline class="l" points="1307.9,1778.6 1338.7,1761.6" style="stroke-width:3.3;stroke-linecap:butt"/>
<polyline class="l" points="1315.6,1782.7 1346.4,1765.7" style="stroke-width:3.3;stroke-linecap:butt"/>
<polyline class="l" points="1323.4,1786.8 1354.1,1769.8" style="stroke-width:3.3;stroke-linecap:butt"/>
<polyline class="l" points="1331.1,1790.9 1361.8,1773.9" style="stroke-width:3.3;stroke-linecap:butt"/>
<polyline class="l" points="1338.8,1795 1369.5,1778" style="stroke-width:3.3;stroke-linecap:butt"/>
<polyline class="l" points="1346.5,1799 1377.2,1782.1" style="stroke-width:3.3;stroke-linecap:butt"/>
<polyline class="l" points="1354.2,1803.1 1384.9,1786.2" style="stroke-width:3.3;stroke-linecap:butt"/>
<polyline class="l" points="1361.9,1807.2 1392.6,1790.3" style="stroke-width:3.3;stroke-linecap:butt"/>
<polyline class="l" points="1369.6,1811.3 1400.3,1794.4" style="stroke-width:3.3;stroke-linecap:butt"/>
<polyline class="l" points="1377.3,1815.4 1408,1798.5" style="stroke-width:3.3;stroke-linecap:butt"/>
<polyline class="l" points="1385,1819.5 1415.7,1802.6" style="stroke-width:3.3;stroke-linecap:butt"/>
<polyline class="l" points="1392.7,1823.6 1423.4,1806.7" style="stroke-width:3.3;stroke-linecap:butt"/>
<polyline class="l" points="1400.4,1827.7 1427,1813.1" style="stroke-width:3.3;stroke-linecap:butt"/>
<polyline class="l" points="1408.1,1831.8 1430.6,1819.4" style="stroke-width:3.3;stroke-linecap:butt"/>
<polyline class="l" points="1415.8,1835.9 1434.2,1825.8" style="stroke-width:3.3;stroke-linecap:butt"/>
<polyline class="l" points="1423.5,1840 1437.8,1832.2" style="stroke-width:3.3;stroke-linecap:butt"/>
<polyline class="l" points="1429.1,1814.9 1454.2,1829.8 1455.1,1837.6"/>
<polyline class="t" points="1440.2,1807.4 1464.5,1820.8"/>
<polyline class="l" points="1410.4,1833.9 1436.9,1848.1"/>
<polyline class="t" points="1454.2,1829.8 1473.8,1821.4"/>
<polygon class="w" points="1335,1519.6 1350.8,1510.2 1433.2,1558.1 1433.2,1816.8 1410.4,1810.2 1335.9,1768.3" style="stroke:none"/>
<path class="k" d="M1335 1519.6C1336.1 1518.6 1338.8 1515.5 1341.5 1514C1344.1 1512.4 1347.1 1510.4 1350.8 1510.2C1354.5 1510.1 1357 1510.1 1363.8 1513C1370.7 1516 1382.2 1522.4 1391.8 1527.9C1401.4 1533.5 1414.7 1541.6 1421.6 1546.6C1428.5 1551.6 1431.2 1556.2 1433.2 1558.1" style="stroke-width:4"/>
<path class="l" d="M1335.9 1523.3C1337.4 1522.5 1341.5 1518.9 1345.2 1518.6C1348.9 1518.3 1350.5 1518.3 1358.3 1521.4C1366 1524.5 1383.1 1532.6 1391.8 1537.3C1400.5 1541.9 1405.9 1545.3 1410.4 1549.4C1414.9 1553.4 1417.4 1559.5 1418.8 1561.5"/>
<path class="k" d="M1353.6 1530.7C1354.7 1530.6 1353.8 1527.2 1360.1 1529.8C1366.5 1532.5 1383.4 1541.6 1391.8 1546.6C1400.2 1551.5 1406 1556.1 1410.4 1559.6C1414.8 1563.1 1416.9 1566.1 1418.3 1567.4"/>
<polyline class="l" points="1363.8,1535.4 1408.6,1560.6" style="stroke-dasharray:8 5;stroke-width:2.8"/>
<polyline class="k" points="1335.5,1519.6 1336.6,1767.9" style="stroke-width:4.2"/>
<polyline class="l" points="1341.5,1522.4 1342.6,1769.2"/>
<polyline class="k" points="1346.7,1526.1 1347.8,1771.1"/>
<polyline class="k" points="1353.2,1530.7 1353.8,1582"/>
<path class="k" d="M1344.3 1554C1345.1 1556.8 1347.2 1566 1348.9 1570.8C1350.6 1575.6 1352.4 1579.2 1354.5 1582.9C1356.7 1586.6 1359.8 1588.3 1362 1593.2C1364.2 1598 1364.5 1606.2 1367.6 1611.8C1370.7 1617.4 1376 1623.1 1380.6 1626.7C1385.3 1630.3 1391.2 1632.6 1395.5 1633.2C1399.9 1633.8 1403.6 1632.4 1406.7 1630.4C1409.8 1628.4 1412.2 1625.5 1414.2 1621.1C1416.1 1616.8 1417.6 1607.1 1418.3 1604.3" style="stroke-width:4"/>
<path class="l" d="M1362 1593.2C1362.8 1592.5 1365.7 1588 1366.6 1589.4C1367.6 1590.8 1367.4 1599.5 1367.6 1601.5"/>
<polyline class="k" points="1418.3,1564.3 1418.3,1619.2"/>
<polyline class="l" points="1424.4,1560 1424.4,1628.6"/>
<polyline class="t" points="1428.7,1561.9 1428.7,1630.4"/>
<polyline class="k" points="1433.2,1558.1 1433.2,1630.4" style="stroke-width:4.2"/>
<path class="w" d="M1330.7 1601.5C1331 1598.8 1332.7 1595 1335 1594.1C1337.2 1593.2 1342.5 1593.9 1344.3 1596C1346.1 1598 1346.3 1603.4 1345.6 1606.2C1344.9 1609 1342.1 1611.9 1340 1612.7C1337.9 1613.5 1334.7 1612.7 1333.1 1610.9C1331.5 1609 1330.4 1604.3 1330.7 1601.5Z" style="stroke-width:3.4"/>
<polyline class="l" points="1335.9,1596.9 1340.6,1610.9"/>
<path class="w" d="M1422 1642.5C1422.6 1639.5 1426.6 1637.4 1429.1 1636.9C1431.5 1636.5 1435.3 1637.9 1436.9 1640.1C1438.5 1642.3 1439.4 1647.1 1438.7 1650C1438.1 1652.9 1435.4 1656.6 1433.2 1657.4C1430.9 1658.3 1427.2 1657.5 1425.3 1655C1423.5 1652.5 1421.4 1645.5 1422 1642.5Z" style="stroke-width:3.4"/>
<polyline class="l" points="1428.1,1639.7 1432.4,1656.1"/>
<polyline class="k" points="1354.5,1604.3 1354.5,1772.8" style="stroke-width:4"/>
<polyline class="t" points="1357.1,1606.6 1357.1,1773.9"/>
<polyline class="l" points="1360.5,1606.2 1360.5,1775.8"/>
<polyline class="k" points="1366.8,1608.1 1366.8,1778" style="stroke-width:4"/>
<polyline class="l" points="1354.5,1772.8 1366.8,1778"/>
<polyline class="k" points="1370.4,1628.6 1370.4,1785.4" style="stroke-width:4"/>
<polyline class="t" points="1373,1630.8 1373,1786.6"/>
<polyline class="l" points="1376.9,1630.4 1376.9,1788.4"/>
<polyline class="k" points="1385.5,1632.3 1385.5,1790.7" style="stroke-width:4"/>
<polyline class="l" points="1370.4,1785.4 1385.5,1790.7"/>
<polyline class="k" points="1390.9,1634.5 1390.9,1798.5" style="stroke-width:4"/>
<polyline class="t" points="1393.5,1636.8 1393.5,1799.6"/>
<polyline class="l" points="1396.8,1636.4 1396.8,1801.5"/>
<polyline class="k" points="1406,1638.3 1406,1803.7" style="stroke-width:4"/>
<polyline class="l" points="1390.9,1798.5 1406,1803.7"/>
<polyline class="k" points="1411.4,1631.4 1411.4,1810" style="stroke-width:4"/>
<polyline class="t" points="1414,1633.6 1414,1811.2"/>
<polyline class="l" points="1418.8,1633.2 1418.8,1813"/>
<polyline class="k" points="1428.5,1635.1 1428.5,1815.3" style="stroke-width:4"/>
<polyline class="l" points="1411.4,1810 1428.5,1815.3"/>
<polyline class="l" points="1336.6,1767.9 1354.5,1773.9"/>
<polyline class="k" points="1433.2,1658.4 1433.2,1816.8"/>
<polygon class="w" points="1342.8,1651.9 1347.3,1654.1 1347.3,1659.7 1342.8,1657.4" style="stroke-width:2.6"/>
<polygon class="w" points="1360.7,1662.1 1366.6,1665.1 1366.6,1670.7 1360.7,1667.7" style="stroke-width:2.6"/>
<polygon class="w" points="1377.1,1672.3 1383,1675.3 1383,1680.9 1377.1,1677.9" style="stroke-width:2.6"/>
<polygon class="w" points="1397,1682.6 1403,1685.6 1403,1691.2 1397,1688.2" style="stroke-width:2.6"/>
<polygon class="w" points="1419.4,1692.8 1428.3,1697.3 1428.3,1702.9 1419.4,1698.4" style="stroke-width:2.6"/>
<polygon class="w" points="1342.8,1692.8 1347.3,1695.1 1347.3,1700.7 1342.8,1698.4" style="stroke-width:2.6"/>
<polygon class="w" points="1360.7,1703.1 1366.6,1706.1 1366.6,1711.7 1360.7,1708.7" style="stroke-width:2.6"/>
<polygon class="w" points="1377.1,1713.3 1383,1716.3 1383,1721.9 1377.1,1718.9" style="stroke-width:2.6"/>
<polygon class="w" points="1397,1723.6 1403,1726.6 1403,1732.2 1397,1729.2" style="stroke-width:2.6"/>
<polygon class="w" points="1419.4,1733.8 1428.3,1738.3 1428.3,1743.9 1419.4,1739.4" style="stroke-width:2.6"/>
<polygon class="w" points="1342.8,1733.8 1347.3,1736.1 1347.3,1741.7 1342.8,1739.4" style="stroke-width:2.6"/>
<polygon class="w" points="1360.7,1744.1 1366.6,1747.1 1366.6,1752.7 1360.7,1749.7" style="stroke-width:2.6"/>
<polygon class="w" points="1377.1,1754.3 1383,1757.3 1383,1762.9 1377.1,1759.9" style="stroke-width:2.6"/>
<polygon class="w" points="1397,1764.6 1403,1767.6 1403,1773.2 1397,1770.2" style="stroke-width:2.6"/>
<polygon class="w" points="1419.4,1774.8 1428.3,1779.3 1428.3,1784.9 1419.4,1780.4" style="stroke-width:2.6"/>
<polygon class="w" points="1397,1774.8 1403,1777.8 1403,1783.4 1397,1780.4" style="stroke-width:2.6"/>
<polygon class="w" points="1419.4,1785.1 1428.3,1789.5 1428.3,1795.1 1419.4,1790.7" style="stroke-width:2.6"/>
</g>
<g id="container">
<polyline class="l" points="1428,1864.8 1429.7,1984.1"/>
<polyline class="l" points="1438.8,1868.2 1439.6,1989.1"/>
<polyline class="k" points="1229.2,2095.1 1429.7,1982.8 1439.6,1984.4" style="stroke-width:5"/>
<polyline class="t" points="1232.5,2099.2 1429.7,1988.2"/>
<polyline class="k" points="1459.5,1991.6 1494.3,2012.3" style="stroke-width:5.5"/>
<polyline class="l" points="1494.3,2010.6 1552.3,2043.7"/>
<polyline class="l" points="1494.3,2015.6 1544,2046.2"/>
<polyline class="l" points="1488.5,2018.1 1494.3,2013.9 1494.3,2019.7"/>
<polyline class="l" points="1229.2,2095.1 1244.1,2086.8 1249.9,2098.4 1249.9,2108.3"/>
<polyline class="t" points="1244.1,2086.8 1245.8,2105"/>
<polyline class="k" points="1133.1,2027.2 1418.1,1862.4" style="stroke-width:4.2"/>
<polyline class="l" points="1139.8,2030.5 1421.4,1867.3"/>
<polyline class="t" points="1143.4,2036.8 1428,1870.6"/>
<path class="k" d="M1418.1 1862.4C1419.1 1861.9 1422 1860.2 1423.9 1859.5C1425.8 1858.9 1426 1858.4 1429.7 1858.7C1433.4 1859 1441.3 1860 1446.3 1861.5C1451.2 1863.1 1457.3 1867.1 1459.5 1868.2" style="stroke-width:4.2"/>
<path class="l" d="M1421.4 1867.3C1422.8 1866.8 1425.5 1864.2 1429.7 1864C1433.8 1863.9 1441.3 1865 1446.3 1866.5C1451.2 1868 1457.3 1872 1459.5 1873.1"/>
<polyline class="k" points="1459.5,1868.2 1645,1972.5" style="stroke-width:4.2"/>
<polyline class="l" points="1459.5,1873.1 1641.7,1977.5"/>
<polyline class="t" points="1459.5,1878.9 1638.4,1982.8"/>
<path class="k" d="M1645 1972.5C1646.7 1973.7 1652.4 1977.2 1654.9 1980C1657.5 1982.7 1659.2 1985.9 1660.2 1989.1C1661.3 1992.2 1662.2 1996.1 1661.1 1999C1659.9 2001.9 1654.6 2005.2 1653.3 2006.5" style="stroke-width:4.2"/>
<path class="l" d="M1641.7 1977.5C1643.1 1978.6 1648 1981.6 1650 1984.1C1651.9 1986.6 1653 1989.5 1653.3 1992.4C1653.6 1995.3 1651.9 2000 1651.6 2001.5"/>
<path class="t" d="M1638.4 1982.8C1639.5 1983.8 1644.7 1987.2 1645 1989.1C1645.3 1990.9 1640.9 1993.2 1640 1994"/>
<polyline class="l" points="1640,1994 1552.3,2042.9"/>
<polyline class="k" points="1552.3,2042.9 1364,2157.6" style="stroke-width:5;stroke-linecap:butt"/>
<polyline class="l" points="1651.6,2001.5 1365.8,2166.4"/>
<polyline class="l" points="1653.3,2007 1367.6,2177.8"/>
<polyline class="t" points="1651.6,2001.5 1653.3,2007"/>
<polyline class="k" points="1567.2,2053.7 1569.2,2063.9 1587.9,2054 1586.7,2044.1 1567.2,2053.7"/>
<polyline class="k" points="1431.3,2125.2 1433.3,2135.7 1453.2,2125.2 1452,2114.1 1431.3,2125.2"/>
<path class="l" d="M1133.1 2027.2C1131.7 2028.3 1126.8 2031 1124.8 2033.8C1122.9 2036.5 1122.2 2040.1 1121.5 2043.7C1120.8 2047.3 1120.2 2052.2 1120.7 2055.3C1121.3 2058.4 1122.8 2060.3 1124.8 2062.3C1126.9 2064.2 1131.7 2066.1 1133.1 2066.9"/>
<path class="l" d="M1139.8 2030.5C1138.6 2031.6 1134.6 2034.3 1133.1 2037.1C1131.6 2039.9 1130.6 2044.3 1130.6 2047C1130.6 2049.8 1132.7 2052.6 1133.1 2053.7"/>
<path class="t" d="M1143.4 2036.8C1142.8 2037.7 1140.1 2040.4 1139.8 2042.1C1139.4 2043.8 1141.1 2046.2 1141.4 2047"/>
<polyline class="t" points="1130.6,2047 1129,2060.3"/>
<polyline class="l" points="1141.4,2047 1330.6,2166.4"/>
<polyline class="l" points="1133.1,2053.7 1192.8,2086.8"/>
<polyline class="l" points="1133.1,2066.9 1191.1,2100"/>
<polyline class="l" points="1273.9,2131.5 1328.8,2166.4"/>
<polyline class="l" points="1272.3,2144.8 1328.8,2177.8"/>
<polygon class="w" points="1190.3,2081 1211,2092.6 1208.5,2105 1187.8,2093.4"/>
<polyline class="t" points="1194.4,2087.6 1210.1,2097.6"/>
<polyline class="k" points="1189.4,2096.7 1207.7,2108.3"/>
<polygon class="w" points="1212.6,2093.4 1232.5,2105 1230,2117.4 1210.1,2105.8"/>
<polyline class="t" points="1216.8,2100 1231.7,2110"/>
<polyline class="k" points="1211.8,2109.2 1229.2,2120.7"/>
<polygon class="w" points="1234.2,2105.8 1255.7,2118.3 1253.2,2130.7 1231.7,2118.3"/>
<polyline class="t" points="1238.3,2112.5 1254.9,2123.2"/>
<polyline class="k" points="1233.3,2121.6 1252.4,2134"/>
<polygon class="w" points="1257.3,2119.1 1273.9,2129 1271.4,2141.4 1254.9,2131.5"/>
<polyline class="t" points="1261.5,2125.7 1273.1,2134"/>
<polyline class="k" points="1256.5,2134.8 1270.6,2144.8"/>
<path class="l" d="M1328.8 2166.4C1330.3 2167.1 1334.7 2169.9 1337.6 2170.8C1340.6 2171.7 1343.2 2172.1 1346.4 2172C1349.7 2171.9 1353.8 2171.2 1357 2170.3C1360.2 2169.3 1364.3 2167 1365.8 2166.4"/>
<path class="l" d="M1328.8 2177.8C1330.3 2178.5 1334.7 2181 1337.6 2181.9C1340.6 2182.8 1343.2 2183.1 1346.4 2183.1C1349.7 2183.1 1353.5 2182.8 1357 2181.9C1360.5 2181 1365.8 2178.5 1367.6 2177.8"/>
<polyline class="t" points="1328.8,2166.4 1328.8,2177.8"/>
<polyline class="t" points="1365.8,2166.4 1367.6,2177.8"/>
<polyline class="l" points="1134.8,2068.6 1143.1,2155.8 1151.9,2357.4 1184.5,2376.2 1225,2353.9 1304.2,2397"/>
<polyline class="l" points="1139.8,2071.1 1148.4,2162.9 1156.3,2353.9"/>
<polyline class="l" points="1156.3,2333.6 1184.5,2348.6"/>
<polyline class="l" points="1143.1,2155.8 1189.8,2184 1205.6,2192.8"/>
<polyline class="l" points="1151,2203.4 1159,2202.5 1170.4,2323.1 1157.2,2326.9 1156.3,2333.6"/>
<polyline class="l" points="1170.4,2316 1182.7,2309"/>
<polyline class="l" points="1195.2,2103.4 1189.8,2185.8"/>
<polyline class="k" points="1190.1,2186.1 1184.8,2365.3" style="stroke-width:5;stroke:#333"/>
<polyline class="l" points="1186.3,2347.7 1184.5,2375.9"/>
<polyline class="l" points="1195.9,2189.3 1193.3,2316 1200.3,2320.4 1203.9,2316"/>
<polyline class="t" points="1200.7,2192.8 1198.6,2317.8"/>
<polyline class="l" points="1205.6,2254.4 1203.9,2314.6 1237.3,2298.4 1240.8,2256.5"/>
<polyline class="l" points="1225.9,2305.5 1225,2353.9"/>
<path class="l" d="M1205.6 2191C1206.8 2188.8 1209.7 2180.8 1212.7 2177.8C1215.6 2174.9 1218.5 2173.4 1223.2 2173.4C1227.9 2173.4 1235 2174.3 1240.8 2177.8C1246.7 2181.4 1253.7 2188.6 1258.4 2194.6C1263.1 2200.6 1266.3 2207.8 1269 2213.9C1271.6 2220.1 1273.4 2228.6 1274.3 2231.5"/>
<path class="t" d="M1212.7 2192.8C1213.4 2191 1215.3 2184.7 1217.1 2182.2C1218.8 2179.8 1222.2 2178.6 1223.2 2177.8"/>
<path class="w" d="M1204.7 2219.2C1204.9 2215.4 1204.9 2210.1 1206.5 2206.9C1208.1 2203.7 1211 2200.4 1214.4 2199.8C1217.8 2199.3 1222.6 2200.7 1226.7 2203.4C1230.8 2206 1235.8 2210.4 1239.1 2215.7C1242.3 2221 1245.2 2229.5 1246.1 2235.1C1247 2240.6 1246.1 2245.6 1244.3 2249.1C1242.6 2252.7 1239.1 2255.6 1235.5 2256.2C1232 2256.8 1227 2255 1223.2 2252.7C1219.4 2250.3 1215.6 2245.9 1212.7 2242.1C1209.7 2238.3 1206.9 2233.6 1205.6 2229.8C1204.3 2226 1204.6 2223 1204.7 2219.2Z"/>
<path class="l" d="M1223.2 2210.4C1224.4 2210 1227.3 2206.4 1230.3 2207.8C1233.2 2209.1 1238.1 2214.2 1240.8 2218.3C1243.5 2222.4 1245.5 2230.1 1246.5 2232.4"/>
<polyline class="l" points="1207.4,2202.5 1226.7,2191.4"/>
<polyline class="l" points="1246.1,2248.3 1265.5,2236.5"/>
<polyline class="l" points="1239.1,2194.9 1248.2,2191.4"/>
<path class="l" d="M1248.2 2191.4C1249 2192.8 1251.4 2196.1 1253.1 2199.8C1254.8 2203.6 1256.4 2209.2 1258.4 2213.9C1260.5 2218.6 1264.3 2225.7 1265.5 2228"/>
<polyline class="l" points="1265.5,2228 1254.9,2235.1 1249.6,2226.3"/>
<path class="l" d="M1239.1 2194.9C1240.2 2196.6 1244.2 2201.4 1246.1 2205.1C1248 2208.9 1248.4 2214.2 1250.5 2217.5C1252.6 2220.7 1257.1 2223.3 1258.4 2224.5"/>
<polyline class="l" points="1274.3,2231.5 1341.2,2268.5"/>
<path class="l" d="M1341.2 2268.5C1342.3 2268.8 1345.8 2270.2 1348.2 2270.3C1350.5 2270.3 1354.1 2269.2 1355.2 2269"/>
<polyline class="l" points="1355.2,2269 1534.9,2168.7"/>
<polyline class="l" points="1534.9,2168.7 1500.7,2188.1"/>
<polyline class="k" points="1500.7,2188.1 1464.3,2208.6" style="stroke-width:3.4;stroke-dasharray:2 1.2"/>
<polyline class="l" points="1464.3,2208.6 1455.2,2214.3"/>
<polyline class="l" points="1639.7,2108.3 1536,2169.4"/>
<polyline class="l" points="1335.9,2183.1 1342.9,2467.4"/>
<polyline class="l" points="1355.2,2182.2 1353.5,2467.4"/>
<polyline class="t" points="1342,2273.8 1345.6,2465.6"/>
<polyline class="t" points="1346.4,2275.5 1349.1,2465.6"/>
<polyline class="k" points="1343.8,2280.8 1345,2333.6" style="stroke:#333"/>
<polyline class="l" points="1281.3,2154.1 1286.6,2242.1 1309.5,2448 1343.8,2467.8"/>
<polyline class="l" points="1286.6,2242.1 1298.9,2375.9 1304.2,2374.1 1291.9,2242.1"/>
<polyline class="l" points="1400.5,2246.2 1386.8,2377.1 1384.6,2438.6"/>
<polyline class="l" points="1353.5,2467.4 1384.6,2438.6"/>
<polyline class="l" points="1399.2,2245.6 1385.2,2439.2"/>
<polyline class="l" points="1389.1,2377.1 1452.9,2344.1 1456.3,2395.4 1384.6,2436.4"/>
<polyline class="k" points="1454,2215.4 1466.6,2402.2" style="stroke-width:4.2;stroke:#333"/>
<polyline class="l" points="1460.2,2213.1 1471.6,2399.9"/>
<polyline class="l" points="1467.7,2402.6 1517.8,2372.6 1536,2169.8"/>
<polyline class="l" points="1380,2254.1 1455.2,2214.3"/>
<polyline class="l" points="1525.8,2297.4 1589.6,2264.4 1593,2314.5"/>
<polyline class="l" points="1521.2,2357.8 1593,2316.8"/>
<polyline class="k" points="1588.4,2137.9 1599.8,2323.6" style="stroke-width:4.2;stroke:#333"/>
<polyline class="l" points="1594.1,2135.7 1605.1,2321.3"/>
<polyline class="l" points="1599.8,2324.1 1630.6,2307.7"/>
<polyline class="l" points="1642.5,2020.5 1639.7,2108.3 1630.6,2307.7"/>
<polyline class="l" points="1647,2018.9 1645.4,2108.3"/>
</g>
<g id="fittings">
<path class="b" d="M1678.8 2114.9C1681.8 2104.6 1692.6 2108.7 1704.7 2103.3C1716.8 2097.8 1742 2085.1 1751.3 2082C1760.6 2079 1758.1 2082.7 1760.3 2085.2C1762.6 2087.6 1764.5 2093.6 1764.7 2096.8C1765 2100 1768.2 2098.3 1761.6 2104.6C1755.1 2110.8 1736.4 2125.5 1725.4 2134.3C1714.4 2143.2 1702.1 2152.4 1695.6 2157.6C1689.2 2162.8 1689.4 2172.5 1686.6 2165.4C1683.8 2158.3 1675.8 2125.3 1678.8 2114.9Z"/>
<ellipse class="w" cx="1676.2" cy="2139.5" rx="19" ry="27" transform="rotate(-18 1676.2 2139.5)" style="stroke-width:3"/>
<ellipse class="l" cx="1677.2" cy="2140.5" rx="13.5" ry="21" transform="rotate(-18 1677.2 2140.5)"/>
<path class="l" d="M1667.2 2149.9C1669.1 2151.1 1674.9 2157.2 1678.8 2157.6C1682.7 2158.1 1688.5 2153.3 1690.5 2152.4"/>
<path class="t" d="M1704.4 2108.8C1705.7 2112 1711.1 2122.6 1711.9 2128.4C1712.8 2134.3 1709.9 2141.3 1709.5 2143.9" style="stroke:#fff;stroke-width:3.2;stroke-linecap:butt"/>
<path class="t" d="M1712.2 2105.3C1713.4 2108.4 1718.6 2118.2 1719.4 2123.5C1720.3 2128.9 1717.7 2135.2 1717.4 2137.6" style="stroke:#fff;stroke-width:3.2;stroke-linecap:butt"/>
<path class="t" d="M1720 2101.9C1721.1 2104.7 1726.1 2113.8 1726.9 2118.6C1727.8 2123.5 1725.5 2129.1 1725.2 2131.2" style="stroke:#fff;stroke-width:3.2;stroke-linecap:butt"/>
<path class="t" d="M1727.7 2098.5C1728.9 2101 1733.5 2109.4 1734.4 2113.7C1735.3 2118.1 1733.3 2123 1733.1 2124.8" style="stroke:#fff;stroke-width:3.2;stroke-linecap:butt"/>
<path class="t" d="M1735.5 2095.1C1736.6 2097.4 1741 2105 1741.9 2108.8C1742.8 2112.7 1741.1 2116.9 1740.9 2118.5" style="stroke:#fff;stroke-width:3.2;stroke-linecap:butt"/>
<path class="t" d="M1743.3 2091.7C1744.3 2093.7 1748.5 2100.6 1749.4 2104C1750.4 2107.4 1748.9 2110.7 1748.8 2112.1" style="stroke:#fff;stroke-width:3.2;stroke-linecap:butt"/>
<path class="t" d="M1751 2088.3C1752 2090.1 1756 2096.2 1756.9 2099.1C1757.9 2102 1756.7 2104.6 1756.6 2105.7" style="stroke:#fff;stroke-width:3.2;stroke-linecap:butt"/>
<ellipse class="w" cx="1788.8" cy="2076.1" rx="20.5" ry="29" transform="rotate(-25 1788.8 2076.1)" style="stroke-width:3.2"/>
<ellipse class="t" cx="1788.8" cy="2076.1" rx="17.5" ry="26" transform="rotate(-25 1788.8 2076.1)"/>
<ellipse class="w" cx="1789.3" cy="2076.6" rx="13.5" ry="21" transform="rotate(-25 1789.3 2076.6)" style="stroke-width:2.8"/>
<path class="b" d="M1817.3 2025.6C1817.7 2018.7 1821.4 2014.2 1826.3 2010.1C1831.3 2006 1840.1 2002.3 1847 2001C1853.9 1999.8 1862.1 2000 1867.7 2002.3C1873.4 2004.7 1877.4 2009.2 1880.7 2015.3C1883.9 2021.3 1886.5 2031.2 1887.2 2038.6C1887.8 2045.9 1887.8 2053.7 1884.6 2059.3C1881.3 2064.9 1873.6 2069.4 1867.7 2072.2C1861.9 2075 1854.8 2076.5 1849.6 2076.1C1844.5 2075.7 1841 2073.7 1836.7 2069.6C1832.4 2065.5 1827 2058.8 1823.7 2051.5C1820.5 2044.2 1816.8 2032.5 1817.3 2025.6Z"/>
<ellipse class="wt" cx="1850.9" cy="2032.1" rx="5.5" ry="13" transform="rotate(-20 1850.9 2032.1)" style="stroke:none"/>
<polyline class="t" points="1856.1,2015.3 1874.2,2010.1" style="stroke:#e6e6e6;stroke-width:1.8" stroke-dasharray="5 2"/>
<polyline class="t" points="1860,2025.6 1879.4,2019.9" style="stroke:#e6e6e6;stroke-width:1.8" stroke-dasharray="5 2"/>
<polyline class="t" points="1863.1,2036 1882.8,2030.8" style="stroke:#e6e6e6;stroke-width:1.8" stroke-dasharray="5 2"/>
<polyline class="t" points="1864.6,2046.3 1883.8,2041.2" style="stroke:#e6e6e6;stroke-width:1.8" stroke-dasharray="5 2"/>
<polyline class="t" points="1865.2,2056.7 1882,2052.8" style="stroke:#e6e6e6;stroke-width:1.8" stroke-dasharray="5 2"/>
<path class="t" d="M1821.2 2025.6C1822 2029.1 1823.3 2039.9 1826.3 2046.3C1829.4 2052.8 1834.5 2060.4 1839.3 2064.5C1844 2068.5 1852.2 2069.8 1854.8 2070.9" style="stroke:#555"/>
<path class="b" d="M1915.6 1992C1915.8 1988.5 1916.3 1989.6 1922.1 1984.2C1927.9 1978.8 1941.5 1967.4 1950.6 1959.6C1959.6 1951.9 1970.4 1944.1 1976.4 1937.6C1982.5 1931.2 1982.5 1924.3 1986.8 1920.8C1991.1 1917.4 1996.3 1916.7 2002.3 1916.9C2008.4 1917.2 2017.4 1918.7 2023 1922.1C2028.6 1925.6 2033.4 1932 2036 1937.6C2038.6 1943.2 2040.3 1950.1 2038.6 1955.8C2036.8 1961.4 2029.9 1966.5 2025.6 1971.3C2021.3 1976 2016.6 1982.1 2012.7 1984.2C2008.8 1986.4 2010.5 1982.1 2002.3 1984.2C1994.1 1986.4 1975.1 1993.3 1963.5 1997.2C1951.9 2001 1939.6 2006.2 1932.4 2007.5C1925.3 2008.8 1923.6 2007.5 1920.8 2004.9C1918 2002.3 1915.4 1995.4 1915.6 1992Z"/>
<ellipse class="w" cx="1998.4" cy="1953.7" rx="22" ry="33" transform="rotate(-25 1998.4 1953.7)" style="stroke-width:2"/>
<path class="b" d="M1976.4 1937.6C1967.8 1933.6 1959.6 1951.9 1950.6 1959.6C1941.5 1967.4 1927.8 1978.4 1922.1 1984.2C1916.4 1990 1916.4 1991.1 1916.4 1994.6C1916.4 1998 1919.4 2002.9 1922.1 2004.9C1924.8 2007 1925.5 2008.4 1932.4 2007C1939.3 2005.6 1951.9 2000.5 1963.5 1996.6C1975.1 1992.8 2000.2 1993.5 2002.3 1983.7C2004.5 1973.9 1985.1 1941.7 1976.4 1937.6Z"/>
<ellipse class="b" cx="1995.4" cy="1956.7" rx="14" ry="23" transform="rotate(-25 1995.4 1956.7)"/>
<ellipse class="wt" cx="1924.2" cy="1995.1" rx="4" ry="8" transform="rotate(-25 1924.2 1995.1)" style="stroke:none"/>
<path class="t" d="M1934.9 1979.3C1935.7 1981.3 1939 1987.6 1940.1 1991.4C1941.2 1995.2 1941.2 2000.2 1941.4 2002" style="stroke:#fff;stroke-width:3.2;stroke-linecap:butt"/>
<path class="t" d="M1941.7 1973.5C1942.8 1975.8 1946.8 1982.9 1948.1 1987.2C1949.4 1991.5 1949.4 1997.2 1949.7 1999.3" style="stroke:#fff;stroke-width:3.2;stroke-linecap:butt"/>
<path class="t" d="M1948.5 1967.8C1949.8 1970.3 1954.6 1978.1 1956.1 1982.9C1957.7 1987.7 1957.6 1994.3 1957.9 1996.6" style="stroke:#fff;stroke-width:3.2;stroke-linecap:butt"/>
<path class="t" d="M1956.5 1961.1C1958 1963.9 1963.7 1972.6 1965.5 1978C1967.3 1983.4 1967.2 1990.8 1967.5 1993.4" style="stroke:#fff;stroke-width:3.2;stroke-linecap:butt"/>
<path class="t" d="M1963.3 1955.3C1965 1958.4 1971.5 1967.9 1973.5 1973.8C1975.6 1979.7 1975.4 1987.9 1975.7 1990.7" style="stroke:#fff;stroke-width:3.2;stroke-linecap:butt"/>
<path class="t" d="M1971.3 1948.6C1973.2 1952 1980.6 1962.4 1982.9 1968.9C1985.2 1975.4 1984.9 1984.4 1985.3 1987.6" style="stroke:#fff;stroke-width:3.2;stroke-linecap:butt"/>
<path class="t" d="M1979.3 1941.9C1981.4 1945.6 1989.7 1956.9 1992.3 1963.9C1994.9 1971 1994.5 1981 1994.9 1984.4" style="stroke:#fff;stroke-width:3.2;stroke-linecap:butt"/>
<path class="t" d="M2007.5 1919.5C2010.5 1921.2 2021.1 1925.1 2025.6 1929.9C2030.1 1934.6 2034.2 1941.5 2034.7 1948C2035.1 1954.5 2029.3 1965.2 2028.2 1968.7" style="stroke:#555"/>
<path class="b" d="M2039.8 1893.6C2040.9 1887.6 2043.9 1882 2048.9 1878.1C2053.9 1874.2 2062.7 1871.2 2069.6 1870.4C2076.5 1869.5 2084.3 1870.4 2090.3 1872.9C2096.3 1875.5 2102.4 1879.8 2105.8 1885.9C2109.3 1891.9 2111 1901.4 2111 1909.2C2111 1916.9 2109.7 1926.4 2105.8 1932.5C2102 1938.5 2093.8 1942.8 2087.7 1945.4C2081.7 1948 2075.2 1949.7 2069.6 1948C2064 1946.3 2058.6 1940.7 2054.1 1935.1C2049.5 1929.4 2044.8 1921.2 2042.4 1914.3C2040.1 1907.4 2038.8 1899.7 2039.8 1893.6Z"/>
<ellipse class="wt" cx="2074.3" cy="1902.7" rx="5.5" ry="13" transform="rotate(-20 2074.3 1902.7)" style="stroke:none"/>
<polyline class="t" points="2080,1885.9 2098.1,1882" style="stroke:#e6e6e6;stroke-width:1.8" stroke-dasharray="5 2"/>
<polyline class="t" points="2083.8,1896.2 2103.3,1891.6" style="stroke:#e6e6e6;stroke-width:1.8" stroke-dasharray="5 2"/>
<polyline class="t" points="2087.2,1906.6 2105.8,1901.9" style="stroke:#e6e6e6;stroke-width:1.8" stroke-dasharray="5 2"/>
<polyline class="t" points="2087.7,1916.9 2105.8,1913.1" style="stroke:#e6e6e6;stroke-width:1.8" stroke-dasharray="5 2"/>
<polyline class="t" points="2087.7,1926.8 2103.3,1923.4" style="stroke:#e6e6e6;stroke-width:1.8" stroke-dasharray="5 2"/>
<path class="t" d="M2043.7 1896.2C2044.6 1899.7 2045.9 1910.5 2048.9 1916.9C2051.9 1923.4 2057.1 1930.8 2061.8 1935.1C2066.6 1939.3 2074.8 1941.1 2077.4 1942.3" style="stroke:#555"/>
</g>
<g id="axes">
<line class="t" x1="1377" y1="563" x2="1377" y2="934" style="stroke:#555;stroke-width:1.2"/>
<path d="M1385.5 552 L1385.5 941" stroke="#fff" stroke-width="17" fill="none" stroke-linejoin="round"/>
<path d="M1385.5 552 L1385.5 941" stroke="#1a1a1a" stroke-width="2.4" fill="none" stroke-dasharray="34 6 5 6"/>
<line class="t" x1="1376.5" y1="1155" x2="1376.5" y2="1264" style="stroke:#555;stroke-width:1.2"/>
<path d="M1385.5 1146 L1385.5 1274" stroke="#fff" stroke-width="17" fill="none" stroke-linejoin="round"/>
<path d="M1385.5 1146 L1385.5 1274" stroke="#1a1a1a" stroke-width="2.4" fill="none" stroke-dasharray="30 6 5 6"/>
<line x1="1385.7" y1="1495" x2="1385.7" y2="1611.6" style="stroke:#333;stroke-width:1.5;fill:none"/>
<polyline points="1381.7,1502 1385.7,1495 1389.7,1502" style="stroke:#555;stroke-width:1;fill:none"/>
<polyline points="1381.7,1604.6 1385.7,1611.6 1389.7,1604.6" style="stroke:#555;stroke-width:1;fill:none"/>
<line x1="1636.4" y1="1385" x2="1636.4" y2="1506" style="stroke:#333;stroke-width:1.5;fill:none"/>
<polyline points="1632.4,1392 1636.4,1385 1640.4,1392" style="stroke:#555;stroke-width:1;fill:none"/>
<polyline points="1632.4,1499 1636.4,1506 1640.4,1499" style="stroke:#555;stroke-width:1;fill:none"/>
<path d="M1385.7 1858 L1385.7 2097" stroke="#fff" stroke-width="17" fill="none" stroke-linejoin="round"/>
<path d="M1385.7 1858 L1385.7 2097" stroke="#1a1a1a" stroke-width="2.4" fill="none" stroke-dasharray="40 6 5 6"/>
<polyline points="1381.7,1852 1385.7,1845 1389.7,1852" style="stroke:#555;stroke-width:1;fill:none"/>
<polyline points="1381.7,2093 1385.7,2100 1389.7,2093" style="stroke:#555;stroke-width:1;fill:none"/>
<line x1="1624" y1="1717" x2="1624" y2="1760.7" style="stroke:#333;stroke-width:1.5;fill:none"/>
<polyline points="1620,1724 1624,1717 1628,1724" style="stroke:#555;stroke-width:1;fill:none"/>
<line x1="1619.6" y1="1752.8" x2="1444.9" y2="1849.6" stroke="#9a9a9a" stroke-width="1.3" stroke-dasharray="1.6 3.6"/>
<line x1="1628.4" y1="1768.6" x2="1453.7" y2="1865.4" stroke="#9a9a9a" stroke-width="1.3" stroke-dasharray="1.6 3.6"/>
<line class="t" x1="1440.5" y1="1858" x2="1440.5" y2="2052" style="stroke:#555;stroke-width:1.2"/>
<path d="M1624 1760.7 L1449.3 1857.5 L1449.3 2060" stroke="#fff" stroke-width="17" fill="none" stroke-linejoin="round"/>
<path d="M1624 1760.7 L1449.3 1857.5 L1449.3 2060" stroke="#1a1a1a" stroke-width="2.4" fill="none" stroke-dasharray="40 7 6 7"/>
<line x1="1258.4" y1="767" x2="1258.4" y2="782.6" stroke="#9a9a9a" stroke-width="1.3" stroke-dasharray="1.6 3.6"/>
<line x1="1276.4" y1="767" x2="1276.4" y2="782.6" stroke="#9a9a9a" stroke-width="1.3" stroke-dasharray="1.6 3.6"/>
<line x1="1263" y1="790.5" x2="1363" y2="846.5" stroke="#9a9a9a" stroke-width="1.3" stroke-dasharray="1.6 3.6"/>
<line x1="1271.8" y1="774.7" x2="1371.8" y2="830.7" stroke="#9a9a9a" stroke-width="1.3" stroke-dasharray="1.6 3.6"/>
<line x1="1358.4" y1="838.6" x2="1358.4" y2="898" stroke="#9a9a9a" stroke-width="1.3" stroke-dasharray="1.6 3.6"/>
<line x1="1376.4" y1="838.6" x2="1376.4" y2="898" stroke="#9a9a9a" stroke-width="1.3" stroke-dasharray="1.6 3.6"/>
<path d="M1267.4 767 L1267.4 782.6 L1367.4 838.6 L1367.4 898" stroke="#fff" stroke-width="17" fill="none" stroke-linejoin="round"/>
<path d="M1267.4 767 L1267.4 782.6 L1367.4 838.6 L1367.4 898" stroke="#1a1a1a" stroke-width="2.4" fill="none" stroke-dasharray="22 6"/>
<line x1="1627.4" y1="824.3" x2="1627.4" y2="837.4" stroke="#9a9a9a" stroke-width="1.3" stroke-dasharray="1.6 3.6"/>
<line x1="1645.4" y1="824.3" x2="1645.4" y2="837.4" stroke="#9a9a9a" stroke-width="1.3" stroke-dasharray="1.6 3.6"/>
<line x1="1632" y1="829.5" x2="1296.3" y2="1015.1" stroke="#9a9a9a" stroke-width="1.3" stroke-dasharray="1.6 3.6"/>
<line x1="1640.8" y1="845.3" x2="1305.1" y2="1030.9" stroke="#9a9a9a" stroke-width="1.3" stroke-dasharray="1.6 3.6"/>
<line x1="1291.7" y1="1023" x2="1291.7" y2="1046" stroke="#9a9a9a" stroke-width="1.3" stroke-dasharray="1.6 3.6"/>
<line x1="1309.7" y1="1023" x2="1309.7" y2="1046" stroke="#9a9a9a" stroke-width="1.3" stroke-dasharray="1.6 3.6"/>
<path d="M1636.4 824.3 L1636.4 837.4 L1300.7 1023 L1300.7 1046" stroke="#fff" stroke-width="17" fill="none" stroke-linejoin="round"/>
<path d="M1636.4 824.3 L1636.4 837.4 L1300.7 1023 L1300.7 1046" stroke="#1a1a1a" stroke-width="2.4" fill="none" stroke-dasharray="36 7 6 7"/>
</g>
<g id="leaders">
<line x1="1832.8" y1="134.6" x2="1529.8" y2="310" stroke="#fff" stroke-width="17" stroke-linecap="round"/>
<line x1="1828.3" y1="126.8" x2="1525.3" y2="302.2" stroke="#9a9a9a" stroke-width="1.3" stroke-dasharray="1.6 3.6"/>
<line x1="1837.3" y1="142.4" x2="1534.3" y2="317.8" stroke="#9a9a9a" stroke-width="1.3" stroke-dasharray="1.6 3.6"/>
<line x1="1832.8" y1="134.6" x2="1529.8" y2="310" stroke="#1a1a1a" stroke-width="2.6" stroke-linecap="butt"/>
<line x1="1828.7" y1="354" x2="1310.6" y2="652.8" stroke="#fff" stroke-width="17" stroke-linecap="round"/>
<line x1="1824.2" y1="346.2" x2="1306.1" y2="645" stroke="#9a9a9a" stroke-width="1.3" stroke-dasharray="1.6 3.6"/>
<line x1="1833.2" y1="361.8" x2="1315.1" y2="660.6" stroke="#9a9a9a" stroke-width="1.3" stroke-dasharray="1.6 3.6"/>
<line x1="1828.7" y1="354" x2="1310.6" y2="652.8" stroke="#1a1a1a" stroke-width="2.6" stroke-linecap="butt"/>
<line x1="1829" y1="545" x2="1640" y2="657" stroke="#fff" stroke-width="17" stroke-linecap="round"/>
<line x1="1824.4" y1="537.3" x2="1635.4" y2="649.3" stroke="#9a9a9a" stroke-width="1.3" stroke-dasharray="1.6 3.6"/>
<line x1="1833.6" y1="552.7" x2="1644.6" y2="664.7" stroke="#9a9a9a" stroke-width="1.3" stroke-dasharray="1.6 3.6"/>
<line x1="1829" y1="545" x2="1640" y2="657" stroke="#1a1a1a" stroke-width="2.6" stroke-linecap="butt"/>
<line x1="1835" y1="791" x2="1605" y2="924" stroke="#fff" stroke-width="17" stroke-linecap="round"/>
<line x1="1830.5" y1="783.2" x2="1600.5" y2="916.2" stroke="#9a9a9a" stroke-width="1.3" stroke-dasharray="1.6 3.6"/>
<line x1="1839.5" y1="798.8" x2="1609.5" y2="931.8" stroke="#9a9a9a" stroke-width="1.3" stroke-dasharray="1.6 3.6"/>
<line x1="1835" y1="791" x2="1605" y2="924" stroke="#1a1a1a" stroke-width="2.6" stroke-linecap="butt"/>
<line x1="1831" y1="1093" x2="1682" y2="1175" stroke="#fff" stroke-width="17" stroke-linecap="round"/>
<line x1="1826.7" y1="1085.1" x2="1677.7" y2="1167.1" stroke="#9a9a9a" stroke-width="1.3" stroke-dasharray="1.6 3.6"/>
<line x1="1835.3" y1="1100.9" x2="1686.3" y2="1182.9" stroke="#9a9a9a" stroke-width="1.3" stroke-dasharray="1.6 3.6"/>
<line x1="1831" y1="1093" x2="1682" y2="1175" stroke="#1a1a1a" stroke-width="2.6" stroke-linecap="butt"/>
<line x1="1835.5" y1="1442.6" x2="1665.6" y2="1541" stroke="#fff" stroke-width="17" stroke-linecap="round"/>
<line x1="1831" y1="1434.8" x2="1661.1" y2="1533.2" stroke="#9a9a9a" stroke-width="1.3" stroke-dasharray="1.6 3.6"/>
<line x1="1840" y1="1450.4" x2="1670.1" y2="1548.8" stroke="#9a9a9a" stroke-width="1.3" stroke-dasharray="1.6 3.6"/>
<line x1="1835.5" y1="1442.6" x2="1665.6" y2="1541" stroke="#1a1a1a" stroke-width="2.6" stroke-linecap="butt"/>
<line x1="1835.5" y1="1704.7" x2="1487.9" y2="1905.4" stroke="#fff" stroke-width="17" stroke-linecap="round"/>
<line x1="1831" y1="1696.9" x2="1483.4" y2="1897.6" stroke="#9a9a9a" stroke-width="1.3" stroke-dasharray="1.6 3.6"/>
<line x1="1840" y1="1712.5" x2="1492.4" y2="1913.2" stroke="#9a9a9a" stroke-width="1.3" stroke-dasharray="1.6 3.6"/>
<line x1="1835.5" y1="1704.7" x2="1487.9" y2="1905.4" stroke="#1a1a1a" stroke-width="2.6" stroke-linecap="butt"/>
<line x1="2035" y1="2057" x2="2002" y2="2038.7" stroke="#fff" stroke-width="17" stroke-linecap="round"/>
<line x1="2039.4" y1="2049.1" x2="2006.4" y2="2030.8" stroke="#9a9a9a" stroke-width="1.3" stroke-dasharray="1.6 3.6"/>
<line x1="2030.6" y1="2064.9" x2="1997.6" y2="2046.6" stroke="#9a9a9a" stroke-width="1.3" stroke-dasharray="1.6 3.6"/>
<line x1="2035" y1="2057" x2="2002" y2="2038.7" stroke="#1a1a1a" stroke-width="2.6" stroke-linecap="butt"/>
<line x1="1119.6" y1="1233.6" x2="1302" y2="1340.7" stroke="#fff" stroke-width="15" stroke-linecap="round"/>
<line x1="1119.6" y1="1233.6" x2="1302" y2="1340.7" stroke="#1a1a1a" stroke-width="2.6" stroke-linecap="butt"/>
<polyline points="846,283 736,348" style="fill:none;stroke:#1a1a1a;stroke-width:2.2;stroke-linejoin:miter"/>
<polyline points="843.3,429.2 709.2,506.7" style="fill:none;stroke:#1a1a1a;stroke-width:2.2;stroke-linejoin:miter"/>
<polyline points="840.8,618.3 705,696.7" style="fill:none;stroke:#1a1a1a;stroke-width:2.2;stroke-linejoin:miter"/>
<polyline points="710,785 745,793.3 784,877.5 711.7,917.5" style="fill:none;stroke:#1a1a1a;stroke-width:2.2;stroke-linejoin:miter"/>
<polyline points="768,840 840.8,799" style="fill:none;stroke:#1a1a1a;stroke-width:2.2;stroke-linejoin:miter"/>
<polyline points="836.7,990.8 740.8,1046.7" style="fill:none;stroke:#1a1a1a;stroke-width:2.2;stroke-linejoin:miter"/>
<polyline points="850,1175.5 713,1255.7" style="fill:none;stroke:#1a1a1a;stroke-width:2.2;stroke-linejoin:miter"/>
<polyline points="651,1145.7 717,1210.4 709,1281.6 455.5,1271" style="fill:none;stroke:#1a1a1a;stroke-width:2.2;stroke-linejoin:miter"/>
<polyline points="2127,1894 2123,1955 1879.4,2121 1657.6,2185.8" style="fill:none;stroke:#1a1a1a;stroke-width:2.2;stroke-linejoin:miter"/>
</g>
<g id="labels">
<text x="454.5" y="217" font-size="38">9</text>
<polygon fill="#1a1a1a" points="876.1,276.5 872.5,276.5 872.5,253 870.3,254.9 865.1,257.6 865.1,254 869.7,251.6 873.8,246.4 876.1,246.4"/>
<text x="883.9" y="276.5" font-size="42">0</text>
<polygon fill="#1a1a1a" points="873.6,422 870,422 870,398.5 867.8,400.4 862.6,403.1 862.6,399.5 867.2,397.1 871.3,391.9 873.6,391.9"/>
<polygon fill="#1a1a1a" points="897,422 893.3,422 893.3,398.5 891.2,400.4 885.9,403.1 885.9,399.5 890.6,397.1 894.6,391.9 897,391.9"/>
<polygon fill="#1a1a1a" points="873.6,611 870,611 870,587.5 867.8,589.4 862.6,592.1 862.6,588.5 867.2,586.1 871.3,580.9 873.6,580.9"/>
<text x="881.4" y="611" font-size="42">2</text>
<polygon fill="#1a1a1a" points="873.6,792.5 870,792.5 870,769 867.8,770.9 862.6,773.6 862.6,770 867.2,767.6 871.3,762.4 873.6,762.4"/>
<text x="881.4" y="792.5" font-size="42">3</text>
<polygon fill="#1a1a1a" points="871.6,983 868,983 868,959.5 865.8,961.4 860.6,964.1 860.6,960.5 865.2,958.1 869.3,952.9 871.6,952.9"/>
<text x="879.4" y="983" font-size="42">4</text>
<text x="868" y="1174" font-size="42">8</text>
<polygon fill="#1a1a1a" points="1885.7,134.5 1878.8,134.5 1878.8,90.8 1874.9,94.4 1865.1,99.4 1865.1,92.8 1873.7,88.2 1881.2,78.7 1885.7,78.7"/>
<text x="1862" y="359" font-size="78">9</text>
<text x="1861.6" y="541.8" font-size="78">2</text>
<text x="1866" y="787.5" font-size="78">3</text>
<text x="1863" y="1088.3" font-size="78">5</text>
<text x="1067.5" y="1233.6" font-size="78">4</text>
<text x="1866" y="1441" font-size="78">6</text>
<text x="1868" y="1701" font-size="78">7</text>
<text x="2067" y="2116" font-size="78">8</text>
<text x="475.5" y="1493.6" font-size="90" font-weight="bold">B</text>
</g>
</svg>
</body></html>
